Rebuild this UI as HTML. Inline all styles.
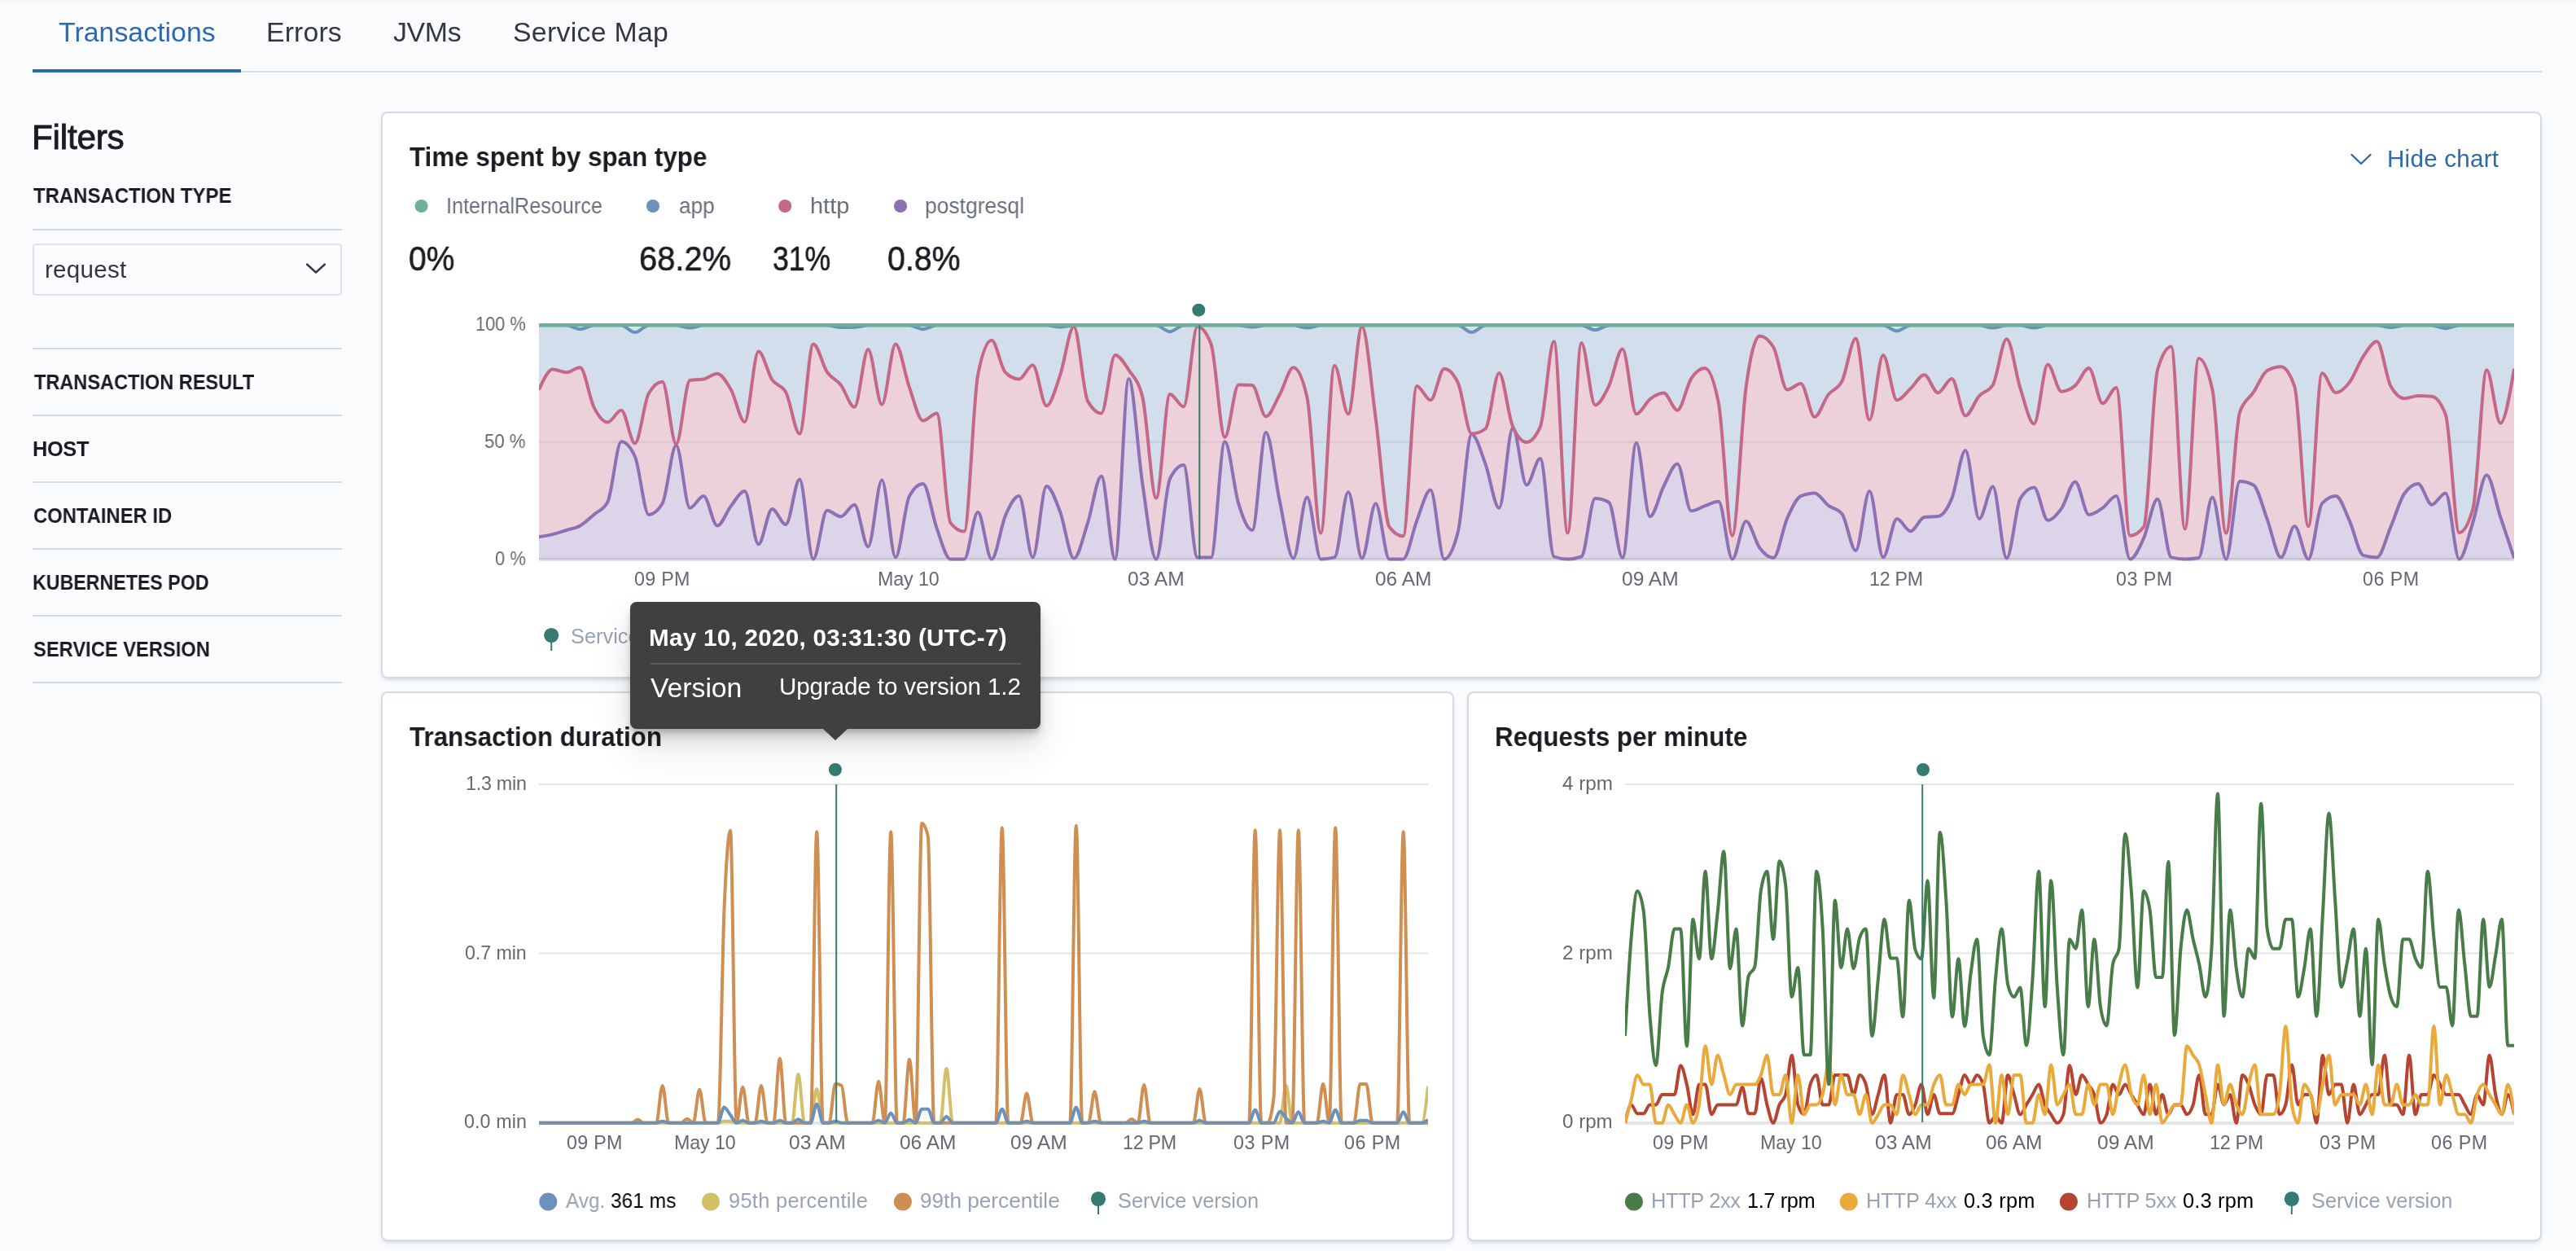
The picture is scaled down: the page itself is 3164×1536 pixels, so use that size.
<!DOCTYPE html>
<html lang="en"><head><meta charset="utf-8"><title>APM - Transactions</title>
<style>
html,body{margin:0;padding:0}
body{width:3164px;height:1536px;overflow:hidden;background:#fafbfd;font-family:"Liberation Sans",sans-serif;position:relative}
.t{position:absolute;white-space:pre;line-height:1;transform-origin:0 0;will-change:transform}
.panel{position:absolute;box-sizing:border-box;background:#fff;border:2px solid #d3dae6;border-radius:8px;box-shadow:0 4px 4px -2px rgba(152,162,179,.3),0 2px 10px -4px rgba(152,162,179,.3)}
.med{-webkit-text-stroke:.6px #1a1c21}
.med2{-webkit-text-stroke:.9px #1a1c21}
.hr{position:absolute;height:2px;background:#d3dae6}
svg{position:absolute;left:0;top:0}
#tip{position:absolute;left:774px;top:739px;width:504px;height:156px;background:#404040;border-radius:8px;box-shadow:0 24px 48px rgba(0,0,0,.1),0 12px 24px rgba(0,0,0,.1),0 8px 8px rgba(0,0,0,.1),0 4px 4px rgba(0,0,0,.1)}
#tip:after{content:"";position:absolute;left:236.5px;top:155.5px;width:0;height:0;border-left:15.5px solid transparent;border-right:15.5px solid transparent;border-top:14.5px solid #404040}
</style></head>
<body>
<div style="position:absolute;left:0;top:0;width:3164px;height:4px;background:linear-gradient(rgba(0,0,0,.025),rgba(0,0,0,0))"></div>
<div class="hr" style="left:40px;top:87px;width:3082px"></div>
<div style="position:absolute;left:40px;top:85px;width:256px;height:4px;background:#2d69af"></div>
<div class="hr" style="left:40px;top:281px;width:380px"></div>
<div class="hr" style="left:40px;top:427px;width:380px"></div>
<div class="hr" style="left:40px;top:509px;width:380px"></div>
<div class="hr" style="left:40px;top:591px;width:380px"></div>
<div class="hr" style="left:40px;top:673px;width:380px"></div>
<div class="hr" style="left:40px;top:755px;width:380px"></div>
<div class="hr" style="left:40px;top:837px;width:380px"></div>
<div style="position:absolute;box-sizing:border-box;left:40px;top:299px;width:380px;height:64px;border:2px solid #dde2ec;border-radius:4px;background:#fbfcfd"></div>
<div class="panel" style="left:468px;top:137px;width:2654px;height:696px"></div>
<div class="panel" style="left:468px;top:849px;width:1318px;height:675px"></div>
<div class="panel" style="left:1802px;top:849px;width:1320px;height:675px"></div>
<svg width="3164" height="1536" viewBox="0 0 3164 1536">
<defs><clipPath id="c1"><rect x="662" y="380" width="2426" height="320"/></clipPath><clipPath id="c2"><rect x="662" y="940" width="1092" height="450"/></clipPath><clipPath id="c3"><rect x="1996" y="940" width="1092" height="450"/></clipPath></defs>
<g id="chart-span"><line x1="662.0" x2="3088.0" y1="687" y2="687" stroke="#e3e4e8" stroke-width="4"/>
<path d="M662,659.2C667.6,658.3,673.2,657.5,678.8,656.1C684.5,654.8,690.1,652.8,695.7,651C701.3,649.2,706.9,648.7,712.5,645.5C718.2,642.3,723.8,636.7,729.4,631.9C735,627,740.6,626.8,746.2,616.7C751.9,606.6,757.5,542.3,763.1,542.3C768.7,542.3,774.3,548.4,779.9,560.5C785.5,572.7,791.2,631.9,796.8,631.9C802.4,631.9,808,627.3,813.6,618.2C819.2,609.1,824.9,546.8,830.5,546.8C836.1,546.8,841.7,623.7,847.3,623.7C852.9,623.7,858.6,609.1,864.2,609.1C869.8,609.1,875.4,645.5,881,645.5C886.6,645.5,892.2,628.3,897.9,621.2C903.5,614.1,909.1,603,914.7,603C920.3,603,925.9,668.3,931.6,668.3C937.2,668.3,942.8,624.9,948.4,624.9C954,624.9,959.6,644,965.2,644C970.9,644,976.5,588.4,982.1,588.4C987.7,588.4,993.3,686.5,998.9,686.5C1004.6,686.5,1010.2,626.7,1015.8,626.7C1021.4,626.7,1027,634.3,1032.6,634.3C1038.3,634.3,1043.9,619.7,1049.5,619.7C1055.1,619.7,1060.7,671.3,1066.3,671.3C1071.9,671.3,1077.6,589.4,1083.2,589.4C1088.8,589.4,1094.4,684.4,1100,684.4C1105.6,684.4,1111.3,619.2,1116.9,609.1C1122.5,599,1128.1,593.9,1133.7,593.9C1139.3,593.9,1145,633.1,1150.6,648.6C1156.2,664,1161.8,686.5,1167.4,686.5C1173,686.5,1178.6,686.5,1184.3,686.5C1189.9,686.5,1195.5,628.8,1201.1,628.8C1206.7,628.8,1212.3,686.5,1218,686.5C1223.6,686.5,1229.2,646.3,1234.8,633.4C1240.4,620.5,1246,609.1,1251.7,609.1C1257.3,609.1,1262.9,684.4,1268.5,684.4C1274.1,684.4,1279.7,596.9,1285.3,596.9C1291,596.9,1296.6,614,1302.2,628.8C1307.8,643.6,1313.4,685.6,1319,685.6C1324.7,685.6,1330.3,659.3,1335.9,642.5C1341.5,625.7,1347.1,584.8,1352.7,584.8C1358.4,584.8,1364,686.5,1369.6,686.5C1375.2,686.5,1380.8,464.9,1386.4,464.9C1392,464.9,1397.7,557,1403.3,593.9C1408.9,630.8,1414.5,686.5,1420.1,686.5C1425.7,686.5,1431.4,599,1437,587.8C1442.6,576.7,1448.2,571.1,1453.8,571.1C1459.4,571.1,1465.1,684.4,1470.7,684.4C1476.3,684.4,1481.9,684.4,1487.5,684.4C1493.1,684.4,1498.7,542.3,1504.4,542.3C1510,542.3,1515.6,600.1,1521.2,618.2C1526.8,636.3,1532.4,651,1538.1,651C1543.7,651,1549.3,531.1,1554.9,531.1C1560.5,531.1,1566.1,589.4,1571.8,615.2C1577.4,640.9,1583,685.6,1588.6,685.6C1594.2,685.6,1599.8,610.6,1605.4,610.6C1611.1,610.6,1616.7,686.5,1622.3,686.5C1627.9,686.5,1633.5,685.8,1639.1,684.4C1644.8,683,1650.4,603.9,1656,603.9C1661.6,603.9,1667.2,685.6,1672.8,685.6C1678.4,685.6,1684.1,618.2,1689.7,618.2C1695.3,618.2,1700.9,686.5,1706.5,686.5C1712.1,686.5,1717.8,686.5,1723.4,686.5C1729,686.5,1734.6,653.6,1740.2,639.4C1745.8,625.3,1751.5,601.5,1757.1,601.5C1762.7,601.5,1768.3,686.5,1773.9,686.5C1779.5,686.5,1785.1,675.4,1790.8,653.1C1796.4,630.8,1802,533.2,1807.6,533.2C1813.2,533.2,1818.8,554.5,1824.5,569.6C1830.1,584.7,1835.7,623.7,1841.3,623.7C1846.9,623.7,1852.5,525.6,1858.2,525.6C1863.8,525.6,1869.4,595.4,1875,595.4C1880.6,595.4,1886.2,562.9,1891.8,562.9C1897.5,562.9,1903.1,681.4,1908.7,683.5C1914.3,685.5,1919.9,686.5,1925.5,686.5C1931.2,686.5,1936.8,685.5,1942.4,683.5C1948,681.4,1953.6,612.1,1959.2,612.1C1964.9,612.1,1970.5,613.6,1976.1,616.7C1981.7,619.7,1987.3,685,1992.9,685C1998.5,685,2004.2,543.8,2009.8,543.8C2015.4,543.8,2021,634.3,2026.6,634.3C2032.2,634.3,2037.9,607.7,2043.5,596.9C2049.1,586.2,2054.7,569.6,2060.3,569.6C2065.9,569.6,2071.6,627.3,2077.2,627.3C2082.8,627.3,2088.4,623.2,2094,621.2C2099.6,619.3,2105.2,615.8,2110.9,615.8C2116.5,615.8,2122.1,686.5,2127.7,686.5C2133.3,686.5,2138.9,640.1,2144.6,640.1C2150.2,640.1,2155.8,665.3,2161.4,672.8C2167,680.3,2172.6,685,2178.2,685C2183.9,685,2189.5,649.1,2195.1,636.4C2200.7,623.8,2206.3,611.5,2211.9,609.1C2217.6,606.7,2223.2,605.4,2228.8,605.4C2234.4,605.4,2240,616.4,2245.6,620.6C2251.3,624.9,2256.9,624.1,2262.5,630.9C2268.1,637.8,2273.7,675.9,2279.3,675.9C2284.9,675.9,2290.6,603,2296.2,603C2301.8,603,2307.4,684.4,2313,684.4C2318.6,684.4,2324.3,637,2329.9,637C2335.5,637,2341.1,652.2,2346.7,652.2C2352.3,652.2,2358,635.5,2363.6,634.9C2369.2,634.3,2374.8,634.6,2380.4,634C2386,633.4,2391.6,625.6,2397.3,612.1C2402.9,598.6,2408.5,552.9,2414.1,552.9C2419.7,552.9,2425.3,637,2431,637C2436.6,637,2442.2,597.5,2447.8,597.5C2453.4,597.5,2459,685.6,2464.7,685.6C2470.3,685.6,2475.9,621.2,2481.5,612.1C2487.1,603,2492.7,598.5,2498.3,598.5C2504,598.5,2509.6,638.8,2515.2,638.8C2520.8,638.8,2526.4,632.2,2532,624.3C2537.7,616.4,2543.3,591.5,2548.9,591.5C2554.5,591.5,2560.1,631.9,2565.7,631.9C2571.4,631.9,2577,627.5,2582.6,623.7C2588.2,619.9,2593.8,609.1,2599.4,609.1C2605,609.1,2610.7,686.5,2616.3,686.5C2621.9,686.5,2627.5,673,2633.1,660.7C2638.7,648.4,2644.4,612.7,2650,612.7C2655.6,612.7,2661.2,683,2666.8,684.4C2672.4,685.8,2678.1,686.5,2683.7,686.5C2689.3,686.5,2694.9,686,2700.5,685C2706.1,684,2711.7,610.6,2717.4,610.6C2723,610.6,2728.6,686.5,2734.2,686.5C2739.8,686.5,2745.4,590.9,2751.1,590.9C2756.7,590.9,2762.3,592.4,2767.9,595.4C2773.5,598.5,2779.1,623.1,2784.8,637.9C2790.4,652.8,2796,684.4,2801.6,684.4C2807.2,684.4,2812.8,646.1,2818.4,646.1C2824.1,646.1,2829.7,686.5,2835.3,686.5C2840.9,686.5,2846.5,624.3,2852.1,618.2C2857.8,612.1,2863.4,609.1,2869,609.1C2874.6,609.1,2880.2,627.3,2885.8,639.4C2891.4,651.6,2897.1,680.3,2902.7,681.9C2908.3,683.6,2913.9,684.4,2919.5,684.4C2925.1,684.4,2930.8,660.1,2936.4,647C2942,634,2947.6,614.1,2953.2,606C2958.8,598,2964.5,593.9,2970.1,593.9C2975.7,593.9,2981.3,619.7,2986.9,619.7C2992.5,619.7,2998.1,605.4,3003.8,605.4C3009.4,605.4,3015,686.5,3020.6,686.5C3026.2,686.5,3031.8,658.2,3037.5,641C3043.1,623.8,3048.7,583.3,3054.3,583.3C3059.9,583.3,3065.5,617.9,3071.2,634.9C3076.8,651.8,3082.4,668.4,3088,685L3088,686.5L662,686.5Z" fill="#8c71b3" fill-opacity=".3"/>
<path d="M662,478.5C667.6,466.1,673.2,453.6,678.8,453.6C684.5,453.6,690.1,457.3,695.7,457.3C701.3,457.3,706.9,451.2,712.5,451.2C718.2,451.2,723.8,488.6,729.4,499.8C735,511,740.6,518.6,746.2,518.6C751.9,518.6,757.5,503.7,763.1,503.7C768.7,503.7,774.3,544.4,779.9,544.4C785.5,544.4,791.2,492.6,796.8,483.1C802.4,473.6,808,468.8,813.6,468.8C819.2,468.8,824.9,545.3,830.5,545.3C836.1,545.3,841.7,468,847.3,467C852.9,466,858.6,466.5,864.2,465.5C869.8,464.5,875.4,458.8,881,458.8C886.6,458.8,892.2,468.7,897.9,478.5C903.5,488.4,909.1,518,914.7,518C920.3,518,925.9,431.5,931.6,431.5C937.2,431.5,942.8,458,948.4,466.4C954,474.7,959.6,471.5,965.2,481.6C970.9,491.7,976.5,532.6,982.1,532.6C987.7,532.6,993.3,422.4,998.9,422.4C1004.6,422.4,1010.2,448.3,1015.8,456.7C1021.4,465,1027,465.3,1032.6,472.5C1038.3,479.7,1043.9,499.8,1049.5,499.8C1055.1,499.8,1060.7,429.1,1066.3,429.1C1071.9,429.1,1077.6,496.8,1083.2,496.8C1088.8,496.8,1094.4,422.4,1100,422.4C1105.6,422.4,1111.3,459.8,1116.9,475.5C1122.5,491.2,1128.1,516.5,1133.7,516.5C1139.3,516.5,1145,507.4,1150.6,507.4C1156.2,507.4,1161.8,634.8,1167.4,641.9C1173,649,1178.6,652.5,1184.3,652.5C1189.9,652.5,1195.5,488.7,1201.1,460.3C1206.7,432,1212.3,417.8,1218,417.8C1223.6,417.8,1229.2,451.8,1234.8,457.3C1240.4,462.8,1246,465.5,1251.7,465.5C1257.3,465.5,1262.9,448.2,1268.5,448.2C1274.1,448.2,1279.7,498.3,1285.3,498.3C1291,498.3,1296.6,476.5,1302.2,460.3C1307.8,444.1,1313.4,401.1,1319,401.1C1324.7,401.1,1330.3,482.1,1335.9,492.2C1341.5,502.3,1347.1,507.4,1352.7,507.4C1358.4,507.4,1364,436,1369.6,436C1375.2,436,1380.8,445.7,1386.4,454.3C1392,462.9,1397.7,465.4,1403.3,487.6C1408.9,509.9,1414.5,611.5,1420.1,611.5C1425.7,611.5,1431.4,484,1437,484C1442.6,484,1448.2,499.2,1453.8,499.2C1459.4,499.2,1465.1,401.1,1470.7,401.1C1476.3,401.1,1481.9,408.2,1487.5,422.4C1493.1,436.5,1498.7,536.8,1504.4,536.8C1510,536.8,1515.6,472.5,1521.2,472.5C1526.8,472.5,1532.4,472.7,1538.1,473.1C1543.7,473.5,1549.3,511.3,1554.9,511.3C1560.5,511.3,1566.1,494.6,1571.8,484.6C1577.4,474.6,1583,451.2,1588.6,451.2C1594.2,451.2,1599.8,463.4,1605.4,487.6C1611.1,511.9,1616.7,654.6,1622.3,654.6C1627.9,654.6,1633.5,448.8,1639.1,448.8C1644.8,448.8,1650.4,508.3,1656,508.3C1661.6,508.3,1667.2,401.1,1672.8,401.1C1678.4,401.1,1684.1,472.5,1689.7,513.5C1695.3,554.4,1700.9,639.5,1706.5,647C1712.1,654.5,1717.8,658.3,1723.4,658.3C1729,658.3,1734.6,474,1740.2,474C1745.8,474,1751.5,491.3,1757.1,491.3C1762.7,491.3,1768.3,452.7,1773.9,452.7C1779.5,452.7,1785.1,458.5,1790.8,470C1796.4,481.6,1802,532.6,1807.6,532.6C1813.2,532.6,1818.8,530.6,1824.5,526.5C1830.1,522.5,1835.7,457.9,1841.3,457.9C1846.9,457.9,1852.5,511.5,1858.2,524.1C1863.8,536.6,1869.4,542.9,1875,542.9C1880.6,542.9,1886.2,536.6,1891.8,524.1C1897.5,511.5,1903.1,419.3,1908.7,419.3C1914.3,419.3,1919.9,654.6,1925.5,654.6C1931.2,654.6,1936.8,420.9,1942.4,420.9C1948,420.9,1953.6,497.4,1959.2,497.4C1964.9,497.4,1970.5,485.5,1976.1,474C1981.7,462.5,1987.3,428.4,1992.9,428.4C1998.5,428.4,2004.2,508.3,2009.8,508.3C2015.4,508.3,2021,494.4,2026.6,490.1C2032.2,485.8,2037.9,482.5,2043.5,482.5C2049.1,482.5,2054.7,503.7,2060.3,503.7C2065.9,503.7,2071.6,473.4,2077.2,464.9C2082.8,456.4,2088.4,452.1,2094,452.1C2099.6,452.1,2105.2,466.5,2110.9,495.2C2116.5,524,2122.1,657.7,2127.7,657.7C2133.3,657.7,2138.9,516.4,2144.6,475.5C2150.2,434.6,2155.8,412.4,2161.4,412.4C2167,412.4,2172.6,417,2178.2,426.3C2183.9,435.6,2189.5,478.5,2195.1,478.5C2200.7,478.5,2206.3,471,2211.9,471C2217.6,471,2223.2,511.9,2228.8,511.9C2234.4,511.9,2240,491.9,2245.6,484.6C2251.3,477.3,2256.9,479,2262.5,467.9C2268.1,456.8,2273.7,415.7,2279.3,415.7C2284.9,415.7,2290.6,515.6,2296.2,515.6C2301.8,515.6,2307.4,436,2313,436C2318.6,436,2324.3,491.3,2329.9,491.3C2335.5,491.3,2341.1,482.2,2346.7,477C2352.3,471.9,2358,460.3,2363.6,460.3C2369.2,460.3,2374.8,482.2,2380.4,482.2C2386,482.2,2391.6,464.9,2397.3,464.9C2402.9,464.9,2408.5,510.4,2414.1,510.4C2419.7,510.4,2425.3,492.5,2431,486.1C2436.6,479.8,2442.2,481.6,2447.8,472.5C2453.4,463.4,2459,416.3,2464.7,416.3C2470.3,416.3,2475.9,459.7,2481.5,477C2487.1,494.4,2492.7,520.4,2498.3,520.4C2504,520.4,2509.6,447.6,2515.2,447.6C2520.8,447.6,2526.4,480.7,2532,480.7C2537.7,480.7,2543.3,478.1,2548.9,473.4C2554.5,468.6,2560.1,452.1,2565.7,452.1C2571.4,452.1,2577,495.2,2582.6,495.2C2588.2,495.2,2593.8,476.1,2599.4,476.1C2605,476.1,2610.7,657.7,2616.3,657.7C2621.9,657.7,2627.5,654.1,2633.1,647C2638.7,639.9,2644.4,473.5,2650,454.3C2655.6,435,2661.2,425.4,2666.8,425.4C2672.4,425.4,2678.1,649.5,2683.7,649.5C2689.3,649.5,2694.9,440,2700.5,440C2706.1,440,2711.7,452.8,2717.4,478.5C2723,504.2,2728.6,654.6,2734.2,654.6C2739.8,654.6,2745.4,522.1,2751.1,505.9C2756.7,489.7,2762.3,490.1,2767.9,481.6C2773.5,473.1,2779.1,457.9,2784.8,454.9C2790.4,451.8,2796,450.3,2801.6,450.3C2807.2,450.3,2812.8,458.5,2818.4,474.9C2824.1,491.3,2829.7,646.4,2835.3,646.4C2840.9,646.4,2846.5,458.2,2852.1,458.2C2857.8,458.2,2863.4,482.2,2869,482.2C2874.6,482.2,2880.2,476.9,2885.8,469.4C2891.4,462,2897.1,445.9,2902.7,437.6C2908.3,429.2,2913.9,419.3,2919.5,419.3C2925.1,419.3,2930.8,463.9,2936.4,474C2942,484.1,2947.6,489.2,2953.2,489.2C2958.8,489.2,2964.5,486.1,2970.1,486.1C2975.7,486.1,2981.3,486.3,2986.9,486.7C2992.5,487.1,2998.1,494.1,3003.8,508.9C3009.4,523.7,3015,654,3020.6,654C3026.2,654,3031.8,644.1,3037.5,624.3C3043.1,604.4,3048.7,454.3,3054.3,454.3C3059.9,454.3,3065.5,519.5,3071.2,519.5C3076.8,519.5,3082.4,486.1,3088,452.7L3088,685C3082.4,668.4,3076.8,651.8,3071.2,634.9C3065.5,617.9,3059.9,583.3,3054.3,583.3C3048.7,583.3,3043.1,623.8,3037.5,641C3031.8,658.2,3026.2,686.5,3020.6,686.5C3015,686.5,3009.4,605.4,3003.8,605.4C2998.1,605.4,2992.5,619.7,2986.9,619.7C2981.3,619.7,2975.7,593.9,2970.1,593.9C2964.5,593.9,2958.8,598,2953.2,606C2947.6,614.1,2942,634,2936.4,647C2930.8,660.1,2925.1,684.4,2919.5,684.4C2913.9,684.4,2908.3,683.6,2902.7,681.9C2897.1,680.3,2891.4,651.6,2885.8,639.4C2880.2,627.3,2874.6,609.1,2869,609.1C2863.4,609.1,2857.8,612.1,2852.1,618.2C2846.5,624.3,2840.9,686.5,2835.3,686.5C2829.7,686.5,2824.1,646.1,2818.4,646.1C2812.8,646.1,2807.2,684.4,2801.6,684.4C2796,684.4,2790.4,652.8,2784.8,637.9C2779.1,623.1,2773.5,598.5,2767.9,595.4C2762.3,592.4,2756.7,590.9,2751.1,590.9C2745.4,590.9,2739.8,686.5,2734.2,686.5C2728.6,686.5,2723,610.6,2717.4,610.6C2711.7,610.6,2706.1,684,2700.5,685C2694.9,686,2689.3,686.5,2683.7,686.5C2678.1,686.5,2672.4,685.8,2666.8,684.4C2661.2,683,2655.6,612.7,2650,612.7C2644.4,612.7,2638.7,648.4,2633.1,660.7C2627.5,673,2621.9,686.5,2616.3,686.5C2610.7,686.5,2605,609.1,2599.4,609.1C2593.8,609.1,2588.2,619.9,2582.6,623.7C2577,627.5,2571.4,631.9,2565.7,631.9C2560.1,631.9,2554.5,591.5,2548.9,591.5C2543.3,591.5,2537.7,616.4,2532,624.3C2526.4,632.2,2520.8,638.8,2515.2,638.8C2509.6,638.8,2504,598.5,2498.3,598.5C2492.7,598.5,2487.1,603,2481.5,612.1C2475.9,621.2,2470.3,685.6,2464.7,685.6C2459,685.6,2453.4,597.5,2447.8,597.5C2442.2,597.5,2436.6,637,2431,637C2425.3,637,2419.7,552.9,2414.1,552.9C2408.5,552.9,2402.9,598.6,2397.3,612.1C2391.6,625.6,2386,633.4,2380.4,634C2374.8,634.6,2369.2,634.3,2363.6,634.9C2358,635.5,2352.3,652.2,2346.7,652.2C2341.1,652.2,2335.5,637,2329.9,637C2324.3,637,2318.6,684.4,2313,684.4C2307.4,684.4,2301.8,603,2296.2,603C2290.6,603,2284.9,675.9,2279.3,675.9C2273.7,675.9,2268.1,637.8,2262.5,630.9C2256.9,624.1,2251.3,624.9,2245.6,620.6C2240,616.4,2234.4,605.4,2228.8,605.4C2223.2,605.4,2217.6,606.7,2211.9,609.1C2206.3,611.5,2200.7,623.8,2195.1,636.4C2189.5,649.1,2183.9,685,2178.2,685C2172.6,685,2167,680.3,2161.4,672.8C2155.8,665.3,2150.2,640.1,2144.6,640.1C2138.9,640.1,2133.3,686.5,2127.7,686.5C2122.1,686.5,2116.5,615.8,2110.9,615.8C2105.2,615.8,2099.6,619.3,2094,621.2C2088.4,623.2,2082.8,627.3,2077.2,627.3C2071.6,627.3,2065.9,569.6,2060.3,569.6C2054.7,569.6,2049.1,586.2,2043.5,596.9C2037.9,607.7,2032.2,634.3,2026.6,634.3C2021,634.3,2015.4,543.8,2009.8,543.8C2004.2,543.8,1998.5,685,1992.9,685C1987.3,685,1981.7,619.7,1976.1,616.7C1970.5,613.6,1964.9,612.1,1959.2,612.1C1953.6,612.1,1948,681.4,1942.4,683.5C1936.8,685.5,1931.2,686.5,1925.5,686.5C1919.9,686.5,1914.3,685.5,1908.7,683.5C1903.1,681.4,1897.5,562.9,1891.8,562.9C1886.2,562.9,1880.6,595.4,1875,595.4C1869.4,595.4,1863.8,525.6,1858.2,525.6C1852.5,525.6,1846.9,623.7,1841.3,623.7C1835.7,623.7,1830.1,584.7,1824.5,569.6C1818.8,554.5,1813.2,533.2,1807.6,533.2C1802,533.2,1796.4,630.8,1790.8,653.1C1785.1,675.4,1779.5,686.5,1773.9,686.5C1768.3,686.5,1762.7,601.5,1757.1,601.5C1751.5,601.5,1745.8,625.3,1740.2,639.4C1734.6,653.6,1729,686.5,1723.4,686.5C1717.8,686.5,1712.1,686.5,1706.5,686.5C1700.9,686.5,1695.3,618.2,1689.7,618.2C1684.1,618.2,1678.4,685.6,1672.8,685.6C1667.2,685.6,1661.6,603.9,1656,603.9C1650.4,603.9,1644.8,683,1639.1,684.4C1633.5,685.8,1627.9,686.5,1622.3,686.5C1616.7,686.5,1611.1,610.6,1605.4,610.6C1599.8,610.6,1594.2,685.6,1588.6,685.6C1583,685.6,1577.4,640.9,1571.8,615.2C1566.1,589.4,1560.5,531.1,1554.9,531.1C1549.3,531.1,1543.7,651,1538.1,651C1532.4,651,1526.8,636.3,1521.2,618.2C1515.6,600.1,1510,542.3,1504.4,542.3C1498.7,542.3,1493.1,684.4,1487.5,684.4C1481.9,684.4,1476.3,684.4,1470.7,684.4C1465.1,684.4,1459.4,571.1,1453.8,571.1C1448.2,571.1,1442.6,576.7,1437,587.8C1431.4,599,1425.7,686.5,1420.1,686.5C1414.5,686.5,1408.9,630.8,1403.3,593.9C1397.7,557,1392,464.9,1386.4,464.9C1380.8,464.9,1375.2,686.5,1369.6,686.5C1364,686.5,1358.4,584.8,1352.7,584.8C1347.1,584.8,1341.5,625.7,1335.9,642.5C1330.3,659.3,1324.7,685.6,1319,685.6C1313.4,685.6,1307.8,643.6,1302.2,628.8C1296.6,614,1291,596.9,1285.3,596.9C1279.7,596.9,1274.1,684.4,1268.5,684.4C1262.9,684.4,1257.3,609.1,1251.7,609.1C1246,609.1,1240.4,620.5,1234.8,633.4C1229.2,646.3,1223.6,686.5,1218,686.5C1212.3,686.5,1206.7,628.8,1201.1,628.8C1195.5,628.8,1189.9,686.5,1184.3,686.5C1178.6,686.5,1173,686.5,1167.4,686.5C1161.8,686.5,1156.2,664,1150.6,648.6C1145,633.1,1139.3,593.9,1133.7,593.9C1128.1,593.9,1122.5,599,1116.9,609.1C1111.3,619.2,1105.6,684.4,1100,684.4C1094.4,684.4,1088.8,589.4,1083.2,589.4C1077.6,589.4,1071.9,671.3,1066.3,671.3C1060.7,671.3,1055.1,619.7,1049.5,619.7C1043.9,619.7,1038.3,634.3,1032.6,634.3C1027,634.3,1021.4,626.7,1015.8,626.7C1010.2,626.7,1004.6,686.5,998.9,686.5C993.3,686.5,987.7,588.4,982.1,588.4C976.5,588.4,970.9,644,965.2,644C959.6,644,954,624.9,948.4,624.9C942.8,624.9,937.2,668.3,931.6,668.3C925.9,668.3,920.3,603,914.7,603C909.1,603,903.5,614.1,897.9,621.2C892.2,628.3,886.6,645.5,881,645.5C875.4,645.5,869.8,609.1,864.2,609.1C858.6,609.1,852.9,623.7,847.3,623.7C841.7,623.7,836.1,546.8,830.5,546.8C824.9,546.8,819.2,609.1,813.6,618.2C808,627.3,802.4,631.9,796.8,631.9C791.2,631.9,785.5,572.7,779.9,560.5C774.3,548.4,768.7,542.3,763.1,542.3C757.5,542.3,751.9,606.6,746.2,616.7C740.6,626.8,735,627,729.4,631.9C723.8,636.7,718.2,642.3,712.5,645.5C706.9,648.7,701.3,649.2,695.7,651C690.1,652.8,684.5,654.8,678.8,656.1C673.2,657.5,667.6,658.3,662,659.2Z" fill="#c56786" fill-opacity=".3"/>
<path d="M662,399.6C667.6,399.6,673.2,399.6,678.8,399.6C684.5,399.6,690.1,399.6,695.7,399.6C701.3,399.6,706.9,404.2,712.5,404.2C718.2,404.2,723.8,399.6,729.4,399.6C735,399.6,740.6,399.6,746.2,399.6C751.9,399.6,757.5,399.6,763.1,399.6C768.7,399.6,774.3,408.1,779.9,408.1C785.5,408.1,791.2,399.6,796.8,399.6C802.4,399.6,808,399.6,813.6,399.6C819.2,399.6,824.9,399.6,830.5,399.6C836.1,399.6,841.7,402.6,847.3,402.6C852.9,402.6,858.6,399.6,864.2,399.6C869.8,399.6,875.4,399.6,881,399.6C886.6,399.6,892.2,399.6,897.9,399.6C903.5,399.6,909.1,399.6,914.7,399.6C920.3,399.6,925.9,399.6,931.6,399.6C937.2,399.6,942.8,399.6,948.4,399.6C954,399.6,959.6,399.6,965.2,399.6C970.9,399.6,976.5,399.6,982.1,399.6C987.7,399.6,993.3,399.6,998.9,399.6C1004.6,399.6,1010.2,399.6,1015.8,399.6C1021.4,399.6,1027,402,1032.6,402C1038.3,402,1043.9,401.9,1049.5,401.7C1055.1,401.5,1060.7,399.6,1066.3,399.6C1071.9,399.6,1077.6,399.6,1083.2,399.6C1088.8,399.6,1094.4,399.6,1100,399.6C1105.6,399.6,1111.3,399.6,1116.9,399.6C1122.5,399.6,1128.1,404.2,1133.7,404.2C1139.3,404.2,1145,399.6,1150.6,399.6C1156.2,399.6,1161.8,399.6,1167.4,399.6C1173,399.6,1178.6,399.6,1184.3,399.6C1189.9,399.6,1195.5,399.6,1201.1,399.6C1206.7,399.6,1212.3,399.6,1218,399.6C1223.6,399.6,1229.2,399.6,1234.8,399.6C1240.4,399.6,1246,399.6,1251.7,399.6C1257.3,399.6,1262.9,399.6,1268.5,399.6C1274.1,399.6,1279.7,399.6,1285.3,399.6C1291,399.6,1296.6,401.4,1302.2,401.4C1307.8,401.4,1313.4,399.6,1319,399.6C1324.7,399.6,1330.3,399.6,1335.9,399.6C1341.5,399.6,1347.1,399.6,1352.7,399.6C1358.4,399.6,1364,399.6,1369.6,399.6C1375.2,399.6,1380.8,399.6,1386.4,399.6C1392,399.6,1397.7,399.6,1403.3,399.6C1408.9,399.6,1414.5,399.6,1420.1,399.6C1425.7,399.6,1431.4,407.2,1437,407.2C1442.6,407.2,1448.2,399.6,1453.8,399.6C1459.4,399.6,1465.1,399.6,1470.7,399.6C1476.3,399.6,1481.9,399.6,1487.5,399.6C1493.1,399.6,1498.7,399.6,1504.4,399.6C1510,399.6,1515.6,399.6,1521.2,399.6C1526.8,399.6,1532.4,401.4,1538.1,401.4C1543.7,401.4,1549.3,399.6,1554.9,399.6C1560.5,399.6,1566.1,399.6,1571.8,399.6C1577.4,399.6,1583,399.6,1588.6,399.6C1594.2,399.6,1599.8,402.6,1605.4,402.6C1611.1,402.6,1616.7,399.6,1622.3,399.6C1627.9,399.6,1633.5,399.6,1639.1,399.6C1644.8,399.6,1650.4,399.6,1656,399.6C1661.6,399.6,1667.2,399.6,1672.8,399.6C1678.4,399.6,1684.1,399.6,1689.7,399.6C1695.3,399.6,1700.9,399.6,1706.5,399.6C1712.1,399.6,1717.8,399.6,1723.4,399.6C1729,399.6,1734.6,399.6,1740.2,399.6C1745.8,399.6,1751.5,399.6,1757.1,399.6C1762.7,399.6,1768.3,399.6,1773.9,399.6C1779.5,399.6,1785.1,399.6,1790.8,399.6C1796.4,399.6,1802,408.1,1807.6,408.1C1813.2,408.1,1818.8,399.6,1824.5,399.6C1830.1,399.6,1835.7,399.6,1841.3,399.6C1846.9,399.6,1852.5,399.6,1858.2,399.6C1863.8,399.6,1869.4,399.6,1875,399.6C1880.6,399.6,1886.2,399.6,1891.8,399.6C1897.5,399.6,1903.1,399.6,1908.7,399.6C1914.3,399.6,1919.9,399.6,1925.5,399.6C1931.2,399.6,1936.8,399.6,1942.4,399.6C1948,399.6,1953.6,405.1,1959.2,405.1C1964.9,405.1,1970.5,399.6,1976.1,399.6C1981.7,399.6,1987.3,399.6,1992.9,399.6C1998.5,399.6,2004.2,399.6,2009.8,399.6C2015.4,399.6,2021,399.6,2026.6,399.6C2032.2,399.6,2037.9,399.6,2043.5,399.6C2049.1,399.6,2054.7,399.6,2060.3,399.6C2065.9,399.6,2071.6,399.6,2077.2,399.6C2082.8,399.6,2088.4,399.6,2094,399.6C2099.6,399.6,2105.2,399.6,2110.9,399.6C2116.5,399.6,2122.1,399.6,2127.7,399.6C2133.3,399.6,2138.9,399.6,2144.6,399.6C2150.2,399.6,2155.8,399.6,2161.4,399.6C2167,399.6,2172.6,399.6,2178.2,399.6C2183.9,399.6,2189.5,399.6,2195.1,399.6C2200.7,399.6,2206.3,399.6,2211.9,399.6C2217.6,399.6,2223.2,399.6,2228.8,399.6C2234.4,399.6,2240,399.6,2245.6,399.6C2251.3,399.6,2256.9,399.6,2262.5,399.6C2268.1,399.6,2273.7,399.6,2279.3,399.6C2284.9,399.6,2290.6,399.6,2296.2,399.6C2301.8,399.6,2307.4,399.6,2313,399.6C2318.6,399.6,2324.3,406.3,2329.9,406.3C2335.5,406.3,2341.1,399.6,2346.7,399.6C2352.3,399.6,2358,399.6,2363.6,399.6C2369.2,399.6,2374.8,399.6,2380.4,399.6C2386,399.6,2391.6,399.6,2397.3,399.6C2402.9,399.6,2408.5,399.6,2414.1,399.6C2419.7,399.6,2425.3,399.6,2431,399.6C2436.6,399.6,2442.2,402.6,2447.8,402.6C2453.4,402.6,2459,399.6,2464.7,399.6C2470.3,399.6,2475.9,399.6,2481.5,399.6C2487.1,399.6,2492.7,402.6,2498.3,402.6C2504,402.6,2509.6,399.6,2515.2,399.6C2520.8,399.6,2526.4,399.6,2532,399.6C2537.7,399.6,2543.3,399.6,2548.9,399.6C2554.5,399.6,2560.1,399.6,2565.7,399.6C2571.4,399.6,2577,399.6,2582.6,399.6C2588.2,399.6,2593.8,399.6,2599.4,399.6C2605,399.6,2610.7,399.6,2616.3,399.6C2621.9,399.6,2627.5,399.6,2633.1,399.6C2638.7,399.6,2644.4,399.6,2650,399.6C2655.6,399.6,2661.2,399.6,2666.8,399.6C2672.4,399.6,2678.1,399.6,2683.7,399.6C2689.3,399.6,2694.9,399.6,2700.5,399.6C2706.1,399.6,2711.7,399.6,2717.4,399.6C2723,399.6,2728.6,399.6,2734.2,399.6C2739.8,399.6,2745.4,399.6,2751.1,399.6C2756.7,399.6,2762.3,399.6,2767.9,399.6C2773.5,399.6,2779.1,399.6,2784.8,399.6C2790.4,399.6,2796,399.6,2801.6,399.6C2807.2,399.6,2812.8,399.6,2818.4,399.6C2824.1,399.6,2829.7,399.6,2835.3,399.6C2840.9,399.6,2846.5,399.6,2852.1,399.6C2857.8,399.6,2863.4,399.6,2869,399.6C2874.6,399.6,2880.2,399.6,2885.8,399.6C2891.4,399.6,2897.1,399.6,2902.7,399.6C2908.3,399.6,2913.9,399.6,2919.5,399.6C2925.1,399.6,2930.8,402,2936.4,402C2942,402,2947.6,399.6,2953.2,399.6C2958.8,399.6,2964.5,399.6,2970.1,399.6C2975.7,399.6,2981.3,399.6,2986.9,399.6C2992.5,399.6,2998.1,403.3,3003.8,403.3C3009.4,403.3,3015,399.6,3020.6,399.6C3026.2,399.6,3031.8,399.6,3037.5,399.6C3043.1,399.6,3048.7,399.6,3054.3,399.6C3059.9,399.6,3065.5,399.6,3071.2,399.6C3076.8,399.6,3082.4,399.6,3088,399.6L3088,452.7C3082.4,486.1,3076.8,519.5,3071.2,519.5C3065.5,519.5,3059.9,454.3,3054.3,454.3C3048.7,454.3,3043.1,604.4,3037.5,624.3C3031.8,644.1,3026.2,654,3020.6,654C3015,654,3009.4,523.7,3003.8,508.9C2998.1,494.1,2992.5,487.1,2986.9,486.7C2981.3,486.3,2975.7,486.1,2970.1,486.1C2964.5,486.1,2958.8,489.2,2953.2,489.2C2947.6,489.2,2942,484.1,2936.4,474C2930.8,463.9,2925.1,419.3,2919.5,419.3C2913.9,419.3,2908.3,429.2,2902.7,437.6C2897.1,445.9,2891.4,462,2885.8,469.4C2880.2,476.9,2874.6,482.2,2869,482.2C2863.4,482.2,2857.8,458.2,2852.1,458.2C2846.5,458.2,2840.9,646.4,2835.3,646.4C2829.7,646.4,2824.1,491.3,2818.4,474.9C2812.8,458.5,2807.2,450.3,2801.6,450.3C2796,450.3,2790.4,451.8,2784.8,454.9C2779.1,457.9,2773.5,473.1,2767.9,481.6C2762.3,490.1,2756.7,489.7,2751.1,505.9C2745.4,522.1,2739.8,654.6,2734.2,654.6C2728.6,654.6,2723,504.2,2717.4,478.5C2711.7,452.8,2706.1,440,2700.5,440C2694.9,440,2689.3,649.5,2683.7,649.5C2678.1,649.5,2672.4,425.4,2666.8,425.4C2661.2,425.4,2655.6,435,2650,454.3C2644.4,473.5,2638.7,639.9,2633.1,647C2627.5,654.1,2621.9,657.7,2616.3,657.7C2610.7,657.7,2605,476.1,2599.4,476.1C2593.8,476.1,2588.2,495.2,2582.6,495.2C2577,495.2,2571.4,452.1,2565.7,452.1C2560.1,452.1,2554.5,468.6,2548.9,473.4C2543.3,478.1,2537.7,480.7,2532,480.7C2526.4,480.7,2520.8,447.6,2515.2,447.6C2509.6,447.6,2504,520.4,2498.3,520.4C2492.7,520.4,2487.1,494.4,2481.5,477C2475.9,459.7,2470.3,416.3,2464.7,416.3C2459,416.3,2453.4,463.4,2447.8,472.5C2442.2,481.6,2436.6,479.8,2431,486.1C2425.3,492.5,2419.7,510.4,2414.1,510.4C2408.5,510.4,2402.9,464.9,2397.3,464.9C2391.6,464.9,2386,482.2,2380.4,482.2C2374.8,482.2,2369.2,460.3,2363.6,460.3C2358,460.3,2352.3,471.9,2346.7,477C2341.1,482.2,2335.5,491.3,2329.9,491.3C2324.3,491.3,2318.6,436,2313,436C2307.4,436,2301.8,515.6,2296.2,515.6C2290.6,515.6,2284.9,415.7,2279.3,415.7C2273.7,415.7,2268.1,456.8,2262.5,467.9C2256.9,479,2251.3,477.3,2245.6,484.6C2240,491.9,2234.4,511.9,2228.8,511.9C2223.2,511.9,2217.6,471,2211.9,471C2206.3,471,2200.7,478.5,2195.1,478.5C2189.5,478.5,2183.9,435.6,2178.2,426.3C2172.6,417,2167,412.4,2161.4,412.4C2155.8,412.4,2150.2,434.6,2144.6,475.5C2138.9,516.4,2133.3,657.7,2127.7,657.7C2122.1,657.7,2116.5,524,2110.9,495.2C2105.2,466.5,2099.6,452.1,2094,452.1C2088.4,452.1,2082.8,456.4,2077.2,464.9C2071.6,473.4,2065.9,503.7,2060.3,503.7C2054.7,503.7,2049.1,482.5,2043.5,482.5C2037.9,482.5,2032.2,485.8,2026.6,490.1C2021,494.4,2015.4,508.3,2009.8,508.3C2004.2,508.3,1998.5,428.4,1992.9,428.4C1987.3,428.4,1981.7,462.5,1976.1,474C1970.5,485.5,1964.9,497.4,1959.2,497.4C1953.6,497.4,1948,420.9,1942.4,420.9C1936.8,420.9,1931.2,654.6,1925.5,654.6C1919.9,654.6,1914.3,419.3,1908.7,419.3C1903.1,419.3,1897.5,511.5,1891.8,524.1C1886.2,536.6,1880.6,542.9,1875,542.9C1869.4,542.9,1863.8,536.6,1858.2,524.1C1852.5,511.5,1846.9,457.9,1841.3,457.9C1835.7,457.9,1830.1,522.5,1824.5,526.5C1818.8,530.6,1813.2,532.6,1807.6,532.6C1802,532.6,1796.4,481.6,1790.8,470C1785.1,458.5,1779.5,452.7,1773.9,452.7C1768.3,452.7,1762.7,491.3,1757.1,491.3C1751.5,491.3,1745.8,474,1740.2,474C1734.6,474,1729,658.3,1723.4,658.3C1717.8,658.3,1712.1,654.5,1706.5,647C1700.9,639.5,1695.3,554.4,1689.7,513.5C1684.1,472.5,1678.4,401.1,1672.8,401.1C1667.2,401.1,1661.6,508.3,1656,508.3C1650.4,508.3,1644.8,448.8,1639.1,448.8C1633.5,448.8,1627.9,654.6,1622.3,654.6C1616.7,654.6,1611.1,511.9,1605.4,487.6C1599.8,463.4,1594.2,451.2,1588.6,451.2C1583,451.2,1577.4,474.6,1571.8,484.6C1566.1,494.6,1560.5,511.3,1554.9,511.3C1549.3,511.3,1543.7,473.5,1538.1,473.1C1532.4,472.7,1526.8,472.5,1521.2,472.5C1515.6,472.5,1510,536.8,1504.4,536.8C1498.7,536.8,1493.1,436.5,1487.5,422.4C1481.9,408.2,1476.3,401.1,1470.7,401.1C1465.1,401.1,1459.4,499.2,1453.8,499.2C1448.2,499.2,1442.6,484,1437,484C1431.4,484,1425.7,611.5,1420.1,611.5C1414.5,611.5,1408.9,509.9,1403.3,487.6C1397.7,465.4,1392,462.9,1386.4,454.3C1380.8,445.7,1375.2,436,1369.6,436C1364,436,1358.4,507.4,1352.7,507.4C1347.1,507.4,1341.5,502.3,1335.9,492.2C1330.3,482.1,1324.7,401.1,1319,401.1C1313.4,401.1,1307.8,444.1,1302.2,460.3C1296.6,476.5,1291,498.3,1285.3,498.3C1279.7,498.3,1274.1,448.2,1268.5,448.2C1262.9,448.2,1257.3,465.5,1251.7,465.5C1246,465.5,1240.4,462.8,1234.8,457.3C1229.2,451.8,1223.6,417.8,1218,417.8C1212.3,417.8,1206.7,432,1201.1,460.3C1195.5,488.7,1189.9,652.5,1184.3,652.5C1178.6,652.5,1173,649,1167.4,641.9C1161.8,634.8,1156.2,507.4,1150.6,507.4C1145,507.4,1139.3,516.5,1133.7,516.5C1128.1,516.5,1122.5,491.2,1116.9,475.5C1111.3,459.8,1105.6,422.4,1100,422.4C1094.4,422.4,1088.8,496.8,1083.2,496.8C1077.6,496.8,1071.9,429.1,1066.3,429.1C1060.7,429.1,1055.1,499.8,1049.5,499.8C1043.9,499.8,1038.3,479.7,1032.6,472.5C1027,465.3,1021.4,465,1015.8,456.7C1010.2,448.3,1004.6,422.4,998.9,422.4C993.3,422.4,987.7,532.6,982.1,532.6C976.5,532.6,970.9,491.7,965.2,481.6C959.6,471.5,954,474.7,948.4,466.4C942.8,458,937.2,431.5,931.6,431.5C925.9,431.5,920.3,518,914.7,518C909.1,518,903.5,488.4,897.9,478.5C892.2,468.7,886.6,458.8,881,458.8C875.4,458.8,869.8,464.5,864.2,465.5C858.6,466.5,852.9,466,847.3,467C841.7,468,836.1,545.3,830.5,545.3C824.9,545.3,819.2,468.8,813.6,468.8C808,468.8,802.4,473.6,796.8,483.1C791.2,492.6,785.5,544.4,779.9,544.4C774.3,544.4,768.7,503.7,763.1,503.7C757.5,503.7,751.9,518.6,746.2,518.6C740.6,518.6,735,511,729.4,499.8C723.8,488.6,718.2,451.2,712.5,451.2C706.9,451.2,701.3,457.3,695.7,457.3C690.1,457.3,684.5,453.6,678.8,453.6C673.2,453.6,667.6,466.1,662,478.5Z" fill="#6b91bc" fill-opacity=".3"/>
<path d="M662,399C667.6,399,673.2,399,678.8,399C684.5,399,690.1,399,695.7,399C701.3,399,706.9,399,712.5,399C718.2,399,723.8,399,729.4,399C735,399,740.6,399,746.2,399C751.9,399,757.5,399,763.1,399C768.7,399,774.3,399,779.9,399C785.5,399,791.2,399,796.8,399C802.4,399,808,399,813.6,399C819.2,399,824.9,399,830.5,399C836.1,399,841.7,399,847.3,399C852.9,399,858.6,399,864.2,399C869.8,399,875.4,399,881,399C886.6,399,892.2,399,897.9,399C903.5,399,909.1,399,914.7,399C920.3,399,925.9,399,931.6,399C937.2,399,942.8,399,948.4,399C954,399,959.6,399,965.2,399C970.9,399,976.5,399,982.1,399C987.7,399,993.3,399,998.9,399C1004.6,399,1010.2,399,1015.8,399C1021.4,399,1027,399,1032.6,399C1038.3,399,1043.9,399,1049.5,399C1055.1,399,1060.7,399,1066.3,399C1071.9,399,1077.6,399,1083.2,399C1088.8,399,1094.4,399,1100,399C1105.6,399,1111.3,399,1116.9,399C1122.5,399,1128.1,399,1133.7,399C1139.3,399,1145,399,1150.6,399C1156.2,399,1161.8,399,1167.4,399C1173,399,1178.6,399,1184.3,399C1189.9,399,1195.5,399,1201.1,399C1206.7,399,1212.3,399,1218,399C1223.6,399,1229.2,399,1234.8,399C1240.4,399,1246,399,1251.7,399C1257.3,399,1262.9,399,1268.5,399C1274.1,399,1279.7,399,1285.3,399C1291,399,1296.6,399,1302.2,399C1307.8,399,1313.4,399,1319,399C1324.7,399,1330.3,399,1335.9,399C1341.5,399,1347.1,399,1352.7,399C1358.4,399,1364,399,1369.6,399C1375.2,399,1380.8,399,1386.4,399C1392,399,1397.7,399,1403.3,399C1408.9,399,1414.5,399,1420.1,399C1425.7,399,1431.4,399,1437,399C1442.6,399,1448.2,399,1453.8,399C1459.4,399,1465.1,399,1470.7,399C1476.3,399,1481.9,399,1487.5,399C1493.1,399,1498.7,399,1504.4,399C1510,399,1515.6,399,1521.2,399C1526.8,399,1532.4,399,1538.1,399C1543.7,399,1549.3,399,1554.9,399C1560.5,399,1566.1,399,1571.8,399C1577.4,399,1583,399,1588.6,399C1594.2,399,1599.8,399,1605.4,399C1611.1,399,1616.7,399,1622.3,399C1627.9,399,1633.5,399,1639.1,399C1644.8,399,1650.4,399,1656,399C1661.6,399,1667.2,399,1672.8,399C1678.4,399,1684.1,399,1689.7,399C1695.3,399,1700.9,399,1706.5,399C1712.1,399,1717.8,399,1723.4,399C1729,399,1734.6,399,1740.2,399C1745.8,399,1751.5,399,1757.1,399C1762.7,399,1768.3,399,1773.9,399C1779.5,399,1785.1,399,1790.8,399C1796.4,399,1802,399,1807.6,399C1813.2,399,1818.8,399,1824.5,399C1830.1,399,1835.7,399,1841.3,399C1846.9,399,1852.5,399,1858.2,399C1863.8,399,1869.4,399,1875,399C1880.6,399,1886.2,399,1891.8,399C1897.5,399,1903.1,399,1908.7,399C1914.3,399,1919.9,399,1925.5,399C1931.2,399,1936.8,399,1942.4,399C1948,399,1953.6,399,1959.2,399C1964.9,399,1970.5,399,1976.1,399C1981.7,399,1987.3,399,1992.9,399C1998.5,399,2004.2,399,2009.8,399C2015.4,399,2021,399,2026.6,399C2032.2,399,2037.9,399,2043.5,399C2049.1,399,2054.7,399,2060.3,399C2065.9,399,2071.6,399,2077.2,399C2082.8,399,2088.4,399,2094,399C2099.6,399,2105.2,399,2110.9,399C2116.5,399,2122.1,399,2127.7,399C2133.3,399,2138.9,399,2144.6,399C2150.2,399,2155.8,399,2161.4,399C2167,399,2172.6,399,2178.2,399C2183.9,399,2189.5,399,2195.1,399C2200.7,399,2206.3,399,2211.9,399C2217.6,399,2223.2,399,2228.8,399C2234.4,399,2240,399,2245.6,399C2251.3,399,2256.9,399,2262.5,399C2268.1,399,2273.7,399,2279.3,399C2284.9,399,2290.6,399,2296.2,399C2301.8,399,2307.4,399,2313,399C2318.6,399,2324.3,399,2329.9,399C2335.5,399,2341.1,399,2346.7,399C2352.3,399,2358,399,2363.6,399C2369.2,399,2374.8,399,2380.4,399C2386,399,2391.6,399,2397.3,399C2402.9,399,2408.5,399,2414.1,399C2419.7,399,2425.3,399,2431,399C2436.6,399,2442.2,399,2447.8,399C2453.4,399,2459,399,2464.7,399C2470.3,399,2475.9,399,2481.5,399C2487.1,399,2492.7,399,2498.3,399C2504,399,2509.6,399,2515.2,399C2520.8,399,2526.4,399,2532,399C2537.7,399,2543.3,399,2548.9,399C2554.5,399,2560.1,399,2565.7,399C2571.4,399,2577,399,2582.6,399C2588.2,399,2593.8,399,2599.4,399C2605,399,2610.7,399,2616.3,399C2621.9,399,2627.5,399,2633.1,399C2638.7,399,2644.4,399,2650,399C2655.6,399,2661.2,399,2666.8,399C2672.4,399,2678.1,399,2683.7,399C2689.3,399,2694.9,399,2700.5,399C2706.1,399,2711.7,399,2717.4,399C2723,399,2728.6,399,2734.2,399C2739.8,399,2745.4,399,2751.1,399C2756.7,399,2762.3,399,2767.9,399C2773.5,399,2779.1,399,2784.8,399C2790.4,399,2796,399,2801.6,399C2807.2,399,2812.8,399,2818.4,399C2824.1,399,2829.7,399,2835.3,399C2840.9,399,2846.5,399,2852.1,399C2857.8,399,2863.4,399,2869,399C2874.6,399,2880.2,399,2885.8,399C2891.4,399,2897.1,399,2902.7,399C2908.3,399,2913.9,399,2919.5,399C2925.1,399,2930.8,399,2936.4,399C2942,399,2947.6,399,2953.2,399C2958.8,399,2964.5,399,2970.1,399C2975.7,399,2981.3,399,2986.9,399C2992.5,399,2998.1,399,3003.8,399C3009.4,399,3015,399,3020.6,399C3026.2,399,3031.8,399,3037.5,399C3043.1,399,3048.7,399,3054.3,399C3059.9,399,3065.5,399,3071.2,399C3076.8,399,3082.4,399,3088,399L3088,399.6C3082.4,399.6,3076.8,399.6,3071.2,399.6C3065.5,399.6,3059.9,399.6,3054.3,399.6C3048.7,399.6,3043.1,399.6,3037.5,399.6C3031.8,399.6,3026.2,399.6,3020.6,399.6C3015,399.6,3009.4,403.3,3003.8,403.3C2998.1,403.3,2992.5,399.6,2986.9,399.6C2981.3,399.6,2975.7,399.6,2970.1,399.6C2964.5,399.6,2958.8,399.6,2953.2,399.6C2947.6,399.6,2942,402,2936.4,402C2930.8,402,2925.1,399.6,2919.5,399.6C2913.9,399.6,2908.3,399.6,2902.7,399.6C2897.1,399.6,2891.4,399.6,2885.8,399.6C2880.2,399.6,2874.6,399.6,2869,399.6C2863.4,399.6,2857.8,399.6,2852.1,399.6C2846.5,399.6,2840.9,399.6,2835.3,399.6C2829.7,399.6,2824.1,399.6,2818.4,399.6C2812.8,399.6,2807.2,399.6,2801.6,399.6C2796,399.6,2790.4,399.6,2784.8,399.6C2779.1,399.6,2773.5,399.6,2767.9,399.6C2762.3,399.6,2756.7,399.6,2751.1,399.6C2745.4,399.6,2739.8,399.6,2734.2,399.6C2728.6,399.6,2723,399.6,2717.4,399.6C2711.7,399.6,2706.1,399.6,2700.5,399.6C2694.9,399.6,2689.3,399.6,2683.7,399.6C2678.1,399.6,2672.4,399.6,2666.8,399.6C2661.2,399.6,2655.6,399.6,2650,399.6C2644.4,399.6,2638.7,399.6,2633.1,399.6C2627.5,399.6,2621.9,399.6,2616.3,399.6C2610.7,399.6,2605,399.6,2599.4,399.6C2593.8,399.6,2588.2,399.6,2582.6,399.6C2577,399.6,2571.4,399.6,2565.7,399.6C2560.1,399.6,2554.5,399.6,2548.9,399.6C2543.3,399.6,2537.7,399.6,2532,399.6C2526.4,399.6,2520.8,399.6,2515.2,399.6C2509.6,399.6,2504,402.6,2498.3,402.6C2492.7,402.6,2487.1,399.6,2481.5,399.6C2475.9,399.6,2470.3,399.6,2464.7,399.6C2459,399.6,2453.4,402.6,2447.8,402.6C2442.2,402.6,2436.6,399.6,2431,399.6C2425.3,399.6,2419.7,399.6,2414.1,399.6C2408.5,399.6,2402.9,399.6,2397.3,399.6C2391.6,399.6,2386,399.6,2380.4,399.6C2374.8,399.6,2369.2,399.6,2363.6,399.6C2358,399.6,2352.3,399.6,2346.7,399.6C2341.1,399.6,2335.5,406.3,2329.9,406.3C2324.3,406.3,2318.6,399.6,2313,399.6C2307.4,399.6,2301.8,399.6,2296.2,399.6C2290.6,399.6,2284.9,399.6,2279.3,399.6C2273.7,399.6,2268.1,399.6,2262.5,399.6C2256.9,399.6,2251.3,399.6,2245.6,399.6C2240,399.6,2234.4,399.6,2228.8,399.6C2223.2,399.6,2217.6,399.6,2211.9,399.6C2206.3,399.6,2200.7,399.6,2195.1,399.6C2189.5,399.6,2183.9,399.6,2178.2,399.6C2172.6,399.6,2167,399.6,2161.4,399.6C2155.8,399.6,2150.2,399.6,2144.6,399.6C2138.9,399.6,2133.3,399.6,2127.7,399.6C2122.1,399.6,2116.5,399.6,2110.9,399.6C2105.2,399.6,2099.6,399.6,2094,399.6C2088.4,399.6,2082.8,399.6,2077.2,399.6C2071.6,399.6,2065.9,399.6,2060.3,399.6C2054.7,399.6,2049.1,399.6,2043.5,399.6C2037.9,399.6,2032.2,399.6,2026.6,399.6C2021,399.6,2015.4,399.6,2009.8,399.6C2004.2,399.6,1998.5,399.6,1992.9,399.6C1987.3,399.6,1981.7,399.6,1976.1,399.6C1970.5,399.6,1964.9,405.1,1959.2,405.1C1953.6,405.1,1948,399.6,1942.4,399.6C1936.8,399.6,1931.2,399.6,1925.5,399.6C1919.9,399.6,1914.3,399.6,1908.7,399.6C1903.1,399.6,1897.5,399.6,1891.8,399.6C1886.2,399.6,1880.6,399.6,1875,399.6C1869.4,399.6,1863.8,399.6,1858.2,399.6C1852.5,399.6,1846.9,399.6,1841.3,399.6C1835.7,399.6,1830.1,399.6,1824.5,399.6C1818.8,399.6,1813.2,408.1,1807.6,408.1C1802,408.1,1796.4,399.6,1790.8,399.6C1785.1,399.6,1779.5,399.6,1773.9,399.6C1768.3,399.6,1762.7,399.6,1757.1,399.6C1751.5,399.6,1745.8,399.6,1740.2,399.6C1734.6,399.6,1729,399.6,1723.4,399.6C1717.8,399.6,1712.1,399.6,1706.5,399.6C1700.9,399.6,1695.3,399.6,1689.7,399.6C1684.1,399.6,1678.4,399.6,1672.8,399.6C1667.2,399.6,1661.6,399.6,1656,399.6C1650.4,399.6,1644.8,399.6,1639.1,399.6C1633.5,399.6,1627.9,399.6,1622.3,399.6C1616.7,399.6,1611.1,402.6,1605.4,402.6C1599.8,402.6,1594.2,399.6,1588.6,399.6C1583,399.6,1577.4,399.6,1571.8,399.6C1566.1,399.6,1560.5,399.6,1554.9,399.6C1549.3,399.6,1543.7,401.4,1538.1,401.4C1532.4,401.4,1526.8,399.6,1521.2,399.6C1515.6,399.6,1510,399.6,1504.4,399.6C1498.7,399.6,1493.1,399.6,1487.5,399.6C1481.9,399.6,1476.3,399.6,1470.7,399.6C1465.1,399.6,1459.4,399.6,1453.8,399.6C1448.2,399.6,1442.6,407.2,1437,407.2C1431.4,407.2,1425.7,399.6,1420.1,399.6C1414.5,399.6,1408.9,399.6,1403.3,399.6C1397.7,399.6,1392,399.6,1386.4,399.6C1380.8,399.6,1375.2,399.6,1369.6,399.6C1364,399.6,1358.4,399.6,1352.7,399.6C1347.1,399.6,1341.5,399.6,1335.9,399.6C1330.3,399.6,1324.7,399.6,1319,399.6C1313.4,399.6,1307.8,401.4,1302.2,401.4C1296.6,401.4,1291,399.6,1285.3,399.6C1279.7,399.6,1274.1,399.6,1268.5,399.6C1262.9,399.6,1257.3,399.6,1251.7,399.6C1246,399.6,1240.4,399.6,1234.8,399.6C1229.2,399.6,1223.6,399.6,1218,399.6C1212.3,399.6,1206.7,399.6,1201.1,399.6C1195.5,399.6,1189.9,399.6,1184.3,399.6C1178.6,399.6,1173,399.6,1167.4,399.6C1161.8,399.6,1156.2,399.6,1150.6,399.6C1145,399.6,1139.3,404.2,1133.7,404.2C1128.1,404.2,1122.5,399.6,1116.9,399.6C1111.3,399.6,1105.6,399.6,1100,399.6C1094.4,399.6,1088.8,399.6,1083.2,399.6C1077.6,399.6,1071.9,399.6,1066.3,399.6C1060.7,399.6,1055.1,401.5,1049.5,401.7C1043.9,401.9,1038.3,402,1032.6,402C1027,402,1021.4,399.6,1015.8,399.6C1010.2,399.6,1004.6,399.6,998.9,399.6C993.3,399.6,987.7,399.6,982.1,399.6C976.5,399.6,970.9,399.6,965.2,399.6C959.6,399.6,954,399.6,948.4,399.6C942.8,399.6,937.2,399.6,931.6,399.6C925.9,399.6,920.3,399.6,914.7,399.6C909.1,399.6,903.5,399.6,897.9,399.6C892.2,399.6,886.6,399.6,881,399.6C875.4,399.6,869.8,399.6,864.2,399.6C858.6,399.6,852.9,402.6,847.3,402.6C841.7,402.6,836.1,399.6,830.5,399.6C824.9,399.6,819.2,399.6,813.6,399.6C808,399.6,802.4,399.6,796.8,399.6C791.2,399.6,785.5,408.1,779.9,408.1C774.3,408.1,768.7,399.6,763.1,399.6C757.5,399.6,751.9,399.6,746.2,399.6C740.6,399.6,735,399.6,729.4,399.6C723.8,399.6,718.2,404.2,712.5,404.2C706.9,404.2,701.3,399.6,695.7,399.6C690.1,399.6,684.5,399.6,678.8,399.6C673.2,399.6,667.6,399.6,662,399.6Z" fill="#6db19a" fill-opacity=".3"/>
<line x1="662.0" x2="3088.0" y1="542.8" y2="542.8" stroke="#000" stroke-opacity=".07" stroke-width="2"/>
<line x1="662.0" x2="3088.0" y1="686.5" y2="686.5" stroke="#000" stroke-opacity=".06" stroke-width="2"/>
<g clip-path="url(#c1)">
<path d="M662,659.2C667.6,658.3,673.2,657.5,678.8,656.1C684.5,654.8,690.1,652.8,695.7,651C701.3,649.2,706.9,648.7,712.5,645.5C718.2,642.3,723.8,636.7,729.4,631.9C735,627,740.6,626.8,746.2,616.7C751.9,606.6,757.5,542.3,763.1,542.3C768.7,542.3,774.3,548.4,779.9,560.5C785.5,572.7,791.2,631.9,796.8,631.9C802.4,631.9,808,627.3,813.6,618.2C819.2,609.1,824.9,546.8,830.5,546.8C836.1,546.8,841.7,623.7,847.3,623.7C852.9,623.7,858.6,609.1,864.2,609.1C869.8,609.1,875.4,645.5,881,645.5C886.6,645.5,892.2,628.3,897.9,621.2C903.5,614.1,909.1,603,914.7,603C920.3,603,925.9,668.3,931.6,668.3C937.2,668.3,942.8,624.9,948.4,624.9C954,624.9,959.6,644,965.2,644C970.9,644,976.5,588.4,982.1,588.4C987.7,588.4,993.3,686.5,998.9,686.5C1004.6,686.5,1010.2,626.7,1015.8,626.7C1021.4,626.7,1027,634.3,1032.6,634.3C1038.3,634.3,1043.9,619.7,1049.5,619.7C1055.1,619.7,1060.7,671.3,1066.3,671.3C1071.9,671.3,1077.6,589.4,1083.2,589.4C1088.8,589.4,1094.4,684.4,1100,684.4C1105.6,684.4,1111.3,619.2,1116.9,609.1C1122.5,599,1128.1,593.9,1133.7,593.9C1139.3,593.9,1145,633.1,1150.6,648.6C1156.2,664,1161.8,686.5,1167.4,686.5C1173,686.5,1178.6,686.5,1184.3,686.5C1189.9,686.5,1195.5,628.8,1201.1,628.8C1206.7,628.8,1212.3,686.5,1218,686.5C1223.6,686.5,1229.2,646.3,1234.8,633.4C1240.4,620.5,1246,609.1,1251.7,609.1C1257.3,609.1,1262.9,684.4,1268.5,684.4C1274.1,684.4,1279.7,596.9,1285.3,596.9C1291,596.9,1296.6,614,1302.2,628.8C1307.8,643.6,1313.4,685.6,1319,685.6C1324.7,685.6,1330.3,659.3,1335.9,642.5C1341.5,625.7,1347.1,584.8,1352.7,584.8C1358.4,584.8,1364,686.5,1369.6,686.5C1375.2,686.5,1380.8,464.9,1386.4,464.9C1392,464.9,1397.7,557,1403.3,593.9C1408.9,630.8,1414.5,686.5,1420.1,686.5C1425.7,686.5,1431.4,599,1437,587.8C1442.6,576.7,1448.2,571.1,1453.8,571.1C1459.4,571.1,1465.1,684.4,1470.7,684.4C1476.3,684.4,1481.9,684.4,1487.5,684.4C1493.1,684.4,1498.7,542.3,1504.4,542.3C1510,542.3,1515.6,600.1,1521.2,618.2C1526.8,636.3,1532.4,651,1538.1,651C1543.7,651,1549.3,531.1,1554.9,531.1C1560.5,531.1,1566.1,589.4,1571.8,615.2C1577.4,640.9,1583,685.6,1588.6,685.6C1594.2,685.6,1599.8,610.6,1605.4,610.6C1611.1,610.6,1616.7,686.5,1622.3,686.5C1627.9,686.5,1633.5,685.8,1639.1,684.4C1644.8,683,1650.4,603.9,1656,603.9C1661.6,603.9,1667.2,685.6,1672.8,685.6C1678.4,685.6,1684.1,618.2,1689.7,618.2C1695.3,618.2,1700.9,686.5,1706.5,686.5C1712.1,686.5,1717.8,686.5,1723.4,686.5C1729,686.5,1734.6,653.6,1740.2,639.4C1745.8,625.3,1751.5,601.5,1757.1,601.5C1762.7,601.5,1768.3,686.5,1773.9,686.5C1779.5,686.5,1785.1,675.4,1790.8,653.1C1796.4,630.8,1802,533.2,1807.6,533.2C1813.2,533.2,1818.8,554.5,1824.5,569.6C1830.1,584.7,1835.7,623.7,1841.3,623.7C1846.9,623.7,1852.5,525.6,1858.2,525.6C1863.8,525.6,1869.4,595.4,1875,595.4C1880.6,595.4,1886.2,562.9,1891.8,562.9C1897.5,562.9,1903.1,681.4,1908.7,683.5C1914.3,685.5,1919.9,686.5,1925.5,686.5C1931.2,686.5,1936.8,685.5,1942.4,683.5C1948,681.4,1953.6,612.1,1959.2,612.1C1964.9,612.1,1970.5,613.6,1976.1,616.7C1981.7,619.7,1987.3,685,1992.9,685C1998.5,685,2004.2,543.8,2009.8,543.8C2015.4,543.8,2021,634.3,2026.6,634.3C2032.2,634.3,2037.9,607.7,2043.5,596.9C2049.1,586.2,2054.7,569.6,2060.3,569.6C2065.9,569.6,2071.6,627.3,2077.2,627.3C2082.8,627.3,2088.4,623.2,2094,621.2C2099.6,619.3,2105.2,615.8,2110.9,615.8C2116.5,615.8,2122.1,686.5,2127.7,686.5C2133.3,686.5,2138.9,640.1,2144.6,640.1C2150.2,640.1,2155.8,665.3,2161.4,672.8C2167,680.3,2172.6,685,2178.2,685C2183.9,685,2189.5,649.1,2195.1,636.4C2200.7,623.8,2206.3,611.5,2211.9,609.1C2217.6,606.7,2223.2,605.4,2228.8,605.4C2234.4,605.4,2240,616.4,2245.6,620.6C2251.3,624.9,2256.9,624.1,2262.5,630.9C2268.1,637.8,2273.7,675.9,2279.3,675.9C2284.9,675.9,2290.6,603,2296.2,603C2301.8,603,2307.4,684.4,2313,684.4C2318.6,684.4,2324.3,637,2329.9,637C2335.5,637,2341.1,652.2,2346.7,652.2C2352.3,652.2,2358,635.5,2363.6,634.9C2369.2,634.3,2374.8,634.6,2380.4,634C2386,633.4,2391.6,625.6,2397.3,612.1C2402.9,598.6,2408.5,552.9,2414.1,552.9C2419.7,552.9,2425.3,637,2431,637C2436.6,637,2442.2,597.5,2447.8,597.5C2453.4,597.5,2459,685.6,2464.7,685.6C2470.3,685.6,2475.9,621.2,2481.5,612.1C2487.1,603,2492.7,598.5,2498.3,598.5C2504,598.5,2509.6,638.8,2515.2,638.8C2520.8,638.8,2526.4,632.2,2532,624.3C2537.7,616.4,2543.3,591.5,2548.9,591.5C2554.5,591.5,2560.1,631.9,2565.7,631.9C2571.4,631.9,2577,627.5,2582.6,623.7C2588.2,619.9,2593.8,609.1,2599.4,609.1C2605,609.1,2610.7,686.5,2616.3,686.5C2621.9,686.5,2627.5,673,2633.1,660.7C2638.7,648.4,2644.4,612.7,2650,612.7C2655.6,612.7,2661.2,683,2666.8,684.4C2672.4,685.8,2678.1,686.5,2683.7,686.5C2689.3,686.5,2694.9,686,2700.5,685C2706.1,684,2711.7,610.6,2717.4,610.6C2723,610.6,2728.6,686.5,2734.2,686.5C2739.8,686.5,2745.4,590.9,2751.1,590.9C2756.7,590.9,2762.3,592.4,2767.9,595.4C2773.5,598.5,2779.1,623.1,2784.8,637.9C2790.4,652.8,2796,684.4,2801.6,684.4C2807.2,684.4,2812.8,646.1,2818.4,646.1C2824.1,646.1,2829.7,686.5,2835.3,686.5C2840.9,686.5,2846.5,624.3,2852.1,618.2C2857.8,612.1,2863.4,609.1,2869,609.1C2874.6,609.1,2880.2,627.3,2885.8,639.4C2891.4,651.6,2897.1,680.3,2902.7,681.9C2908.3,683.6,2913.9,684.4,2919.5,684.4C2925.1,684.4,2930.8,660.1,2936.4,647C2942,634,2947.6,614.1,2953.2,606C2958.8,598,2964.5,593.9,2970.1,593.9C2975.7,593.9,2981.3,619.7,2986.9,619.7C2992.5,619.7,2998.1,605.4,3003.8,605.4C3009.4,605.4,3015,686.5,3020.6,686.5C3026.2,686.5,3031.8,658.2,3037.5,641C3043.1,623.8,3048.7,583.3,3054.3,583.3C3059.9,583.3,3065.5,617.9,3071.2,634.9C3076.8,651.8,3082.4,668.4,3088,685" fill="none" stroke="#8c71b3" stroke-width="4" stroke-linejoin="round"/>
<path d="M662,478.5C667.6,466.1,673.2,453.6,678.8,453.6C684.5,453.6,690.1,457.3,695.7,457.3C701.3,457.3,706.9,451.2,712.5,451.2C718.2,451.2,723.8,488.6,729.4,499.8C735,511,740.6,518.6,746.2,518.6C751.9,518.6,757.5,503.7,763.1,503.7C768.7,503.7,774.3,544.4,779.9,544.4C785.5,544.4,791.2,492.6,796.8,483.1C802.4,473.6,808,468.8,813.6,468.8C819.2,468.8,824.9,545.3,830.5,545.3C836.1,545.3,841.7,468,847.3,467C852.9,466,858.6,466.5,864.2,465.5C869.8,464.5,875.4,458.8,881,458.8C886.6,458.8,892.2,468.7,897.9,478.5C903.5,488.4,909.1,518,914.7,518C920.3,518,925.9,431.5,931.6,431.5C937.2,431.5,942.8,458,948.4,466.4C954,474.7,959.6,471.5,965.2,481.6C970.9,491.7,976.5,532.6,982.1,532.6C987.7,532.6,993.3,422.4,998.9,422.4C1004.6,422.4,1010.2,448.3,1015.8,456.7C1021.4,465,1027,465.3,1032.6,472.5C1038.3,479.7,1043.9,499.8,1049.5,499.8C1055.1,499.8,1060.7,429.1,1066.3,429.1C1071.9,429.1,1077.6,496.8,1083.2,496.8C1088.8,496.8,1094.4,422.4,1100,422.4C1105.6,422.4,1111.3,459.8,1116.9,475.5C1122.5,491.2,1128.1,516.5,1133.7,516.5C1139.3,516.5,1145,507.4,1150.6,507.4C1156.2,507.4,1161.8,634.8,1167.4,641.9C1173,649,1178.6,652.5,1184.3,652.5C1189.9,652.5,1195.5,488.7,1201.1,460.3C1206.7,432,1212.3,417.8,1218,417.8C1223.6,417.8,1229.2,451.8,1234.8,457.3C1240.4,462.8,1246,465.5,1251.7,465.5C1257.3,465.5,1262.9,448.2,1268.5,448.2C1274.1,448.2,1279.7,498.3,1285.3,498.3C1291,498.3,1296.6,476.5,1302.2,460.3C1307.8,444.1,1313.4,401.1,1319,401.1C1324.7,401.1,1330.3,482.1,1335.9,492.2C1341.5,502.3,1347.1,507.4,1352.7,507.4C1358.4,507.4,1364,436,1369.6,436C1375.2,436,1380.8,445.7,1386.4,454.3C1392,462.9,1397.7,465.4,1403.3,487.6C1408.9,509.9,1414.5,611.5,1420.1,611.5C1425.7,611.5,1431.4,484,1437,484C1442.6,484,1448.2,499.2,1453.8,499.2C1459.4,499.2,1465.1,401.1,1470.7,401.1C1476.3,401.1,1481.9,408.2,1487.5,422.4C1493.1,436.5,1498.7,536.8,1504.4,536.8C1510,536.8,1515.6,472.5,1521.2,472.5C1526.8,472.5,1532.4,472.7,1538.1,473.1C1543.7,473.5,1549.3,511.3,1554.9,511.3C1560.5,511.3,1566.1,494.6,1571.8,484.6C1577.4,474.6,1583,451.2,1588.6,451.2C1594.2,451.2,1599.8,463.4,1605.4,487.6C1611.1,511.9,1616.7,654.6,1622.3,654.6C1627.9,654.6,1633.5,448.8,1639.1,448.8C1644.8,448.8,1650.4,508.3,1656,508.3C1661.6,508.3,1667.2,401.1,1672.8,401.1C1678.4,401.1,1684.1,472.5,1689.7,513.5C1695.3,554.4,1700.9,639.5,1706.5,647C1712.1,654.5,1717.8,658.3,1723.4,658.3C1729,658.3,1734.6,474,1740.2,474C1745.8,474,1751.5,491.3,1757.1,491.3C1762.7,491.3,1768.3,452.7,1773.9,452.7C1779.5,452.7,1785.1,458.5,1790.8,470C1796.4,481.6,1802,532.6,1807.6,532.6C1813.2,532.6,1818.8,530.6,1824.5,526.5C1830.1,522.5,1835.7,457.9,1841.3,457.9C1846.9,457.9,1852.5,511.5,1858.2,524.1C1863.8,536.6,1869.4,542.9,1875,542.9C1880.6,542.9,1886.2,536.6,1891.8,524.1C1897.5,511.5,1903.1,419.3,1908.7,419.3C1914.3,419.3,1919.9,654.6,1925.5,654.6C1931.2,654.6,1936.8,420.9,1942.4,420.9C1948,420.9,1953.6,497.4,1959.2,497.4C1964.9,497.4,1970.5,485.5,1976.1,474C1981.7,462.5,1987.3,428.4,1992.9,428.4C1998.5,428.4,2004.2,508.3,2009.8,508.3C2015.4,508.3,2021,494.4,2026.6,490.1C2032.2,485.8,2037.9,482.5,2043.5,482.5C2049.1,482.5,2054.7,503.7,2060.3,503.7C2065.9,503.7,2071.6,473.4,2077.2,464.9C2082.8,456.4,2088.4,452.1,2094,452.1C2099.6,452.1,2105.2,466.5,2110.9,495.2C2116.5,524,2122.1,657.7,2127.7,657.7C2133.3,657.7,2138.9,516.4,2144.6,475.5C2150.2,434.6,2155.8,412.4,2161.4,412.4C2167,412.4,2172.6,417,2178.2,426.3C2183.9,435.6,2189.5,478.5,2195.1,478.5C2200.7,478.5,2206.3,471,2211.9,471C2217.6,471,2223.2,511.9,2228.8,511.9C2234.4,511.9,2240,491.9,2245.6,484.6C2251.3,477.3,2256.9,479,2262.5,467.9C2268.1,456.8,2273.7,415.7,2279.3,415.7C2284.9,415.7,2290.6,515.6,2296.2,515.6C2301.8,515.6,2307.4,436,2313,436C2318.6,436,2324.3,491.3,2329.9,491.3C2335.5,491.3,2341.1,482.2,2346.7,477C2352.3,471.9,2358,460.3,2363.6,460.3C2369.2,460.3,2374.8,482.2,2380.4,482.2C2386,482.2,2391.6,464.9,2397.3,464.9C2402.9,464.9,2408.5,510.4,2414.1,510.4C2419.7,510.4,2425.3,492.5,2431,486.1C2436.6,479.8,2442.2,481.6,2447.8,472.5C2453.4,463.4,2459,416.3,2464.7,416.3C2470.3,416.3,2475.9,459.7,2481.5,477C2487.1,494.4,2492.7,520.4,2498.3,520.4C2504,520.4,2509.6,447.6,2515.2,447.6C2520.8,447.6,2526.4,480.7,2532,480.7C2537.7,480.7,2543.3,478.1,2548.9,473.4C2554.5,468.6,2560.1,452.1,2565.7,452.1C2571.4,452.1,2577,495.2,2582.6,495.2C2588.2,495.2,2593.8,476.1,2599.4,476.1C2605,476.1,2610.7,657.7,2616.3,657.7C2621.9,657.7,2627.5,654.1,2633.1,647C2638.7,639.9,2644.4,473.5,2650,454.3C2655.6,435,2661.2,425.4,2666.8,425.4C2672.4,425.4,2678.1,649.5,2683.7,649.5C2689.3,649.5,2694.9,440,2700.5,440C2706.1,440,2711.7,452.8,2717.4,478.5C2723,504.2,2728.6,654.6,2734.2,654.6C2739.8,654.6,2745.4,522.1,2751.1,505.9C2756.7,489.7,2762.3,490.1,2767.9,481.6C2773.5,473.1,2779.1,457.9,2784.8,454.9C2790.4,451.8,2796,450.3,2801.6,450.3C2807.2,450.3,2812.8,458.5,2818.4,474.9C2824.1,491.3,2829.7,646.4,2835.3,646.4C2840.9,646.4,2846.5,458.2,2852.1,458.2C2857.8,458.2,2863.4,482.2,2869,482.2C2874.6,482.2,2880.2,476.9,2885.8,469.4C2891.4,462,2897.1,445.9,2902.7,437.6C2908.3,429.2,2913.9,419.3,2919.5,419.3C2925.1,419.3,2930.8,463.9,2936.4,474C2942,484.1,2947.6,489.2,2953.2,489.2C2958.8,489.2,2964.5,486.1,2970.1,486.1C2975.7,486.1,2981.3,486.3,2986.9,486.7C2992.5,487.1,2998.1,494.1,3003.8,508.9C3009.4,523.7,3015,654,3020.6,654C3026.2,654,3031.8,644.1,3037.5,624.3C3043.1,604.4,3048.7,454.3,3054.3,454.3C3059.9,454.3,3065.5,519.5,3071.2,519.5C3076.8,519.5,3082.4,486.1,3088,452.7" fill="none" stroke="#c56786" stroke-width="4" stroke-linejoin="round"/>
<path d="M662,399.6C667.6,399.6,673.2,399.6,678.8,399.6C684.5,399.6,690.1,399.6,695.7,399.6C701.3,399.6,706.9,404.2,712.5,404.2C718.2,404.2,723.8,399.6,729.4,399.6C735,399.6,740.6,399.6,746.2,399.6C751.9,399.6,757.5,399.6,763.1,399.6C768.7,399.6,774.3,408.1,779.9,408.1C785.5,408.1,791.2,399.6,796.8,399.6C802.4,399.6,808,399.6,813.6,399.6C819.2,399.6,824.9,399.6,830.5,399.6C836.1,399.6,841.7,402.6,847.3,402.6C852.9,402.6,858.6,399.6,864.2,399.6C869.8,399.6,875.4,399.6,881,399.6C886.6,399.6,892.2,399.6,897.9,399.6C903.5,399.6,909.1,399.6,914.7,399.6C920.3,399.6,925.9,399.6,931.6,399.6C937.2,399.6,942.8,399.6,948.4,399.6C954,399.6,959.6,399.6,965.2,399.6C970.9,399.6,976.5,399.6,982.1,399.6C987.7,399.6,993.3,399.6,998.9,399.6C1004.6,399.6,1010.2,399.6,1015.8,399.6C1021.4,399.6,1027,402,1032.6,402C1038.3,402,1043.9,401.9,1049.5,401.7C1055.1,401.5,1060.7,399.6,1066.3,399.6C1071.9,399.6,1077.6,399.6,1083.2,399.6C1088.8,399.6,1094.4,399.6,1100,399.6C1105.6,399.6,1111.3,399.6,1116.9,399.6C1122.5,399.6,1128.1,404.2,1133.7,404.2C1139.3,404.2,1145,399.6,1150.6,399.6C1156.2,399.6,1161.8,399.6,1167.4,399.6C1173,399.6,1178.6,399.6,1184.3,399.6C1189.9,399.6,1195.5,399.6,1201.1,399.6C1206.7,399.6,1212.3,399.6,1218,399.6C1223.6,399.6,1229.2,399.6,1234.8,399.6C1240.4,399.6,1246,399.6,1251.7,399.6C1257.3,399.6,1262.9,399.6,1268.5,399.6C1274.1,399.6,1279.7,399.6,1285.3,399.6C1291,399.6,1296.6,401.4,1302.2,401.4C1307.8,401.4,1313.4,399.6,1319,399.6C1324.7,399.6,1330.3,399.6,1335.9,399.6C1341.5,399.6,1347.1,399.6,1352.7,399.6C1358.4,399.6,1364,399.6,1369.6,399.6C1375.2,399.6,1380.8,399.6,1386.4,399.6C1392,399.6,1397.7,399.6,1403.3,399.6C1408.9,399.6,1414.5,399.6,1420.1,399.6C1425.7,399.6,1431.4,407.2,1437,407.2C1442.6,407.2,1448.2,399.6,1453.8,399.6C1459.4,399.6,1465.1,399.6,1470.7,399.6C1476.3,399.6,1481.9,399.6,1487.5,399.6C1493.1,399.6,1498.7,399.6,1504.4,399.6C1510,399.6,1515.6,399.6,1521.2,399.6C1526.8,399.6,1532.4,401.4,1538.1,401.4C1543.7,401.4,1549.3,399.6,1554.9,399.6C1560.5,399.6,1566.1,399.6,1571.8,399.6C1577.4,399.6,1583,399.6,1588.6,399.6C1594.2,399.6,1599.8,402.6,1605.4,402.6C1611.1,402.6,1616.7,399.6,1622.3,399.6C1627.9,399.6,1633.5,399.6,1639.1,399.6C1644.8,399.6,1650.4,399.6,1656,399.6C1661.6,399.6,1667.2,399.6,1672.8,399.6C1678.4,399.6,1684.1,399.6,1689.7,399.6C1695.3,399.6,1700.9,399.6,1706.5,399.6C1712.1,399.6,1717.8,399.6,1723.4,399.6C1729,399.6,1734.6,399.6,1740.2,399.6C1745.8,399.6,1751.5,399.6,1757.1,399.6C1762.7,399.6,1768.3,399.6,1773.9,399.6C1779.5,399.6,1785.1,399.6,1790.8,399.6C1796.4,399.6,1802,408.1,1807.6,408.1C1813.2,408.1,1818.8,399.6,1824.5,399.6C1830.1,399.6,1835.7,399.6,1841.3,399.6C1846.9,399.6,1852.5,399.6,1858.2,399.6C1863.8,399.6,1869.4,399.6,1875,399.6C1880.6,399.6,1886.2,399.6,1891.8,399.6C1897.5,399.6,1903.1,399.6,1908.7,399.6C1914.3,399.6,1919.9,399.6,1925.5,399.6C1931.2,399.6,1936.8,399.6,1942.4,399.6C1948,399.6,1953.6,405.1,1959.2,405.1C1964.9,405.1,1970.5,399.6,1976.1,399.6C1981.7,399.6,1987.3,399.6,1992.9,399.6C1998.5,399.6,2004.2,399.6,2009.8,399.6C2015.4,399.6,2021,399.6,2026.6,399.6C2032.2,399.6,2037.9,399.6,2043.5,399.6C2049.1,399.6,2054.7,399.6,2060.3,399.6C2065.9,399.6,2071.6,399.6,2077.2,399.6C2082.8,399.6,2088.4,399.6,2094,399.6C2099.6,399.6,2105.2,399.6,2110.9,399.6C2116.5,399.6,2122.1,399.6,2127.7,399.6C2133.3,399.6,2138.9,399.6,2144.6,399.6C2150.2,399.6,2155.8,399.6,2161.4,399.6C2167,399.6,2172.6,399.6,2178.2,399.6C2183.9,399.6,2189.5,399.6,2195.1,399.6C2200.7,399.6,2206.3,399.6,2211.9,399.6C2217.6,399.6,2223.2,399.6,2228.8,399.6C2234.4,399.6,2240,399.6,2245.6,399.6C2251.3,399.6,2256.9,399.6,2262.5,399.6C2268.1,399.6,2273.7,399.6,2279.3,399.6C2284.9,399.6,2290.6,399.6,2296.2,399.6C2301.8,399.6,2307.4,399.6,2313,399.6C2318.6,399.6,2324.3,406.3,2329.9,406.3C2335.5,406.3,2341.1,399.6,2346.7,399.6C2352.3,399.6,2358,399.6,2363.6,399.6C2369.2,399.6,2374.8,399.6,2380.4,399.6C2386,399.6,2391.6,399.6,2397.3,399.6C2402.9,399.6,2408.5,399.6,2414.1,399.6C2419.7,399.6,2425.3,399.6,2431,399.6C2436.6,399.6,2442.2,402.6,2447.8,402.6C2453.4,402.6,2459,399.6,2464.7,399.6C2470.3,399.6,2475.9,399.6,2481.5,399.6C2487.1,399.6,2492.7,402.6,2498.3,402.6C2504,402.6,2509.6,399.6,2515.2,399.6C2520.8,399.6,2526.4,399.6,2532,399.6C2537.7,399.6,2543.3,399.6,2548.9,399.6C2554.5,399.6,2560.1,399.6,2565.7,399.6C2571.4,399.6,2577,399.6,2582.6,399.6C2588.2,399.6,2593.8,399.6,2599.4,399.6C2605,399.6,2610.7,399.6,2616.3,399.6C2621.9,399.6,2627.5,399.6,2633.1,399.6C2638.7,399.6,2644.4,399.6,2650,399.6C2655.6,399.6,2661.2,399.6,2666.8,399.6C2672.4,399.6,2678.1,399.6,2683.7,399.6C2689.3,399.6,2694.9,399.6,2700.5,399.6C2706.1,399.6,2711.7,399.6,2717.4,399.6C2723,399.6,2728.6,399.6,2734.2,399.6C2739.8,399.6,2745.4,399.6,2751.1,399.6C2756.7,399.6,2762.3,399.6,2767.9,399.6C2773.5,399.6,2779.1,399.6,2784.8,399.6C2790.4,399.6,2796,399.6,2801.6,399.6C2807.2,399.6,2812.8,399.6,2818.4,399.6C2824.1,399.6,2829.7,399.6,2835.3,399.6C2840.9,399.6,2846.5,399.6,2852.1,399.6C2857.8,399.6,2863.4,399.6,2869,399.6C2874.6,399.6,2880.2,399.6,2885.8,399.6C2891.4,399.6,2897.1,399.6,2902.7,399.6C2908.3,399.6,2913.9,399.6,2919.5,399.6C2925.1,399.6,2930.8,402,2936.4,402C2942,402,2947.6,399.6,2953.2,399.6C2958.8,399.6,2964.5,399.6,2970.1,399.6C2975.7,399.6,2981.3,399.6,2986.9,399.6C2992.5,399.6,2998.1,403.3,3003.8,403.3C3009.4,403.3,3015,399.6,3020.6,399.6C3026.2,399.6,3031.8,399.6,3037.5,399.6C3043.1,399.6,3048.7,399.6,3054.3,399.6C3059.9,399.6,3065.5,399.6,3071.2,399.6C3076.8,399.6,3082.4,399.6,3088,399.6" fill="none" stroke="#6b91bc" stroke-width="4" stroke-linejoin="round"/>
</g>
<line x1="662.0" x2="3088.0" y1="399.0" y2="399.0" stroke="#6db19a" stroke-width="4"/>
<line x1="1473.3" x2="1473.3" y1="399.0" y2="686.5" stroke="#367b73" stroke-width="2"/>
<circle cx="1472.3" cy="380.7" r="8" fill="#367b73"/></g>
<g id="chart-duration"><line x1="662.0" x2="1754.0" y1="963" y2="963" stroke="#e4e5e8" stroke-width="2"/>
<line x1="662.0" x2="1754.0" y1="1170.5" y2="1170.5" stroke="#e4e5e8" stroke-width="2"/>
<line x1="662.0" x2="1754.0" y1="1378" y2="1378" stroke="#e4e5e8" stroke-width="2"/>
<line x1="662.0" x2="1754.0" y1="1379" y2="1379" stroke="#e3e4e8" stroke-width="4"/>
<g clip-path="url(#c2)">
<path d="M662,1378.7C664.5,1378.7,667.1,1378.7,669.6,1378.7C672.1,1378.7,674.6,1378.7,677.2,1378.7C679.7,1378.7,682.2,1378.7,684.8,1378.7C687.3,1378.7,689.8,1378.7,692.3,1378.7C694.9,1378.7,697.4,1378.7,699.9,1378.7C702.4,1378.7,705,1378.7,707.5,1378.7C710,1378.7,712.6,1378.7,715.1,1378.7C717.6,1378.7,720.1,1378.7,722.7,1378.7C725.2,1378.7,727.7,1378.7,730.2,1378.7C732.8,1378.7,735.3,1378.7,737.8,1378.7C740.4,1378.7,742.9,1378.7,745.4,1378.7C747.9,1378.7,750.5,1378.7,753,1378.7C755.5,1378.7,758.1,1378.7,760.6,1378.7C763.1,1378.7,765.6,1378.7,768.2,1378.7C770.7,1378.7,773.2,1378.7,775.8,1378.7C778.3,1378.7,780.8,1378.7,783.3,1378.7C785.9,1378.7,788.4,1378.7,790.9,1378.7C793.4,1378.7,796,1378.7,798.5,1378.7C801,1378.7,803.6,1378.7,806.1,1378.7C808.6,1378.7,811.1,1378.7,813.7,1378.7C816.2,1378.7,818.7,1378.7,821.2,1378.7C823.8,1378.7,826.3,1378.7,828.8,1378.7C831.4,1378.7,833.9,1378.7,836.4,1378.7C838.9,1378.7,841.5,1378.7,844,1378.7C846.5,1378.7,849.1,1378.7,851.6,1378.7C854.1,1378.7,856.6,1378.7,859.2,1378.7C861.7,1378.7,864.2,1378.7,866.8,1378.7C869.3,1378.7,871.8,1378.7,874.3,1378.7C876.9,1378.7,879.4,1378.7,881.9,1378.7C884.4,1378.7,887,1376.7,889.5,1376.7C892,1376.7,894.6,1376.7,897.1,1376.7C899.6,1376.7,902.1,1378.7,904.7,1378.7C907.2,1378.7,909.7,1378.7,912.2,1378.7C914.8,1378.7,917.3,1378.7,919.8,1378.7C922.4,1378.7,924.9,1378.7,927.4,1378.7C929.9,1378.7,932.5,1378.7,935,1378.7C937.5,1378.7,940.1,1378.7,942.6,1378.7C945.1,1378.7,947.6,1378.7,950.2,1378.7C952.7,1378.7,955.2,1378.7,957.8,1378.7C960.3,1378.7,962.8,1378.7,965.3,1378.7C967.9,1378.7,970.4,1378.7,972.9,1378.7C975.4,1378.7,978,1318.9,980.5,1318.9C983,1318.9,985.6,1378.7,988.1,1378.7C990.6,1378.7,993.1,1378.7,995.7,1378.7C998.2,1378.7,1000.7,1337,1003.2,1337C1005.8,1337,1008.3,1378.7,1010.8,1378.7C1013.4,1378.7,1015.9,1378.7,1018.4,1378.7C1020.9,1378.7,1023.5,1378.7,1026,1378.7C1028.5,1378.7,1031.1,1378.7,1033.6,1378.7C1036.1,1378.7,1038.6,1378.7,1041.2,1378.7C1043.7,1378.7,1046.2,1378.7,1048.8,1378.7C1051.3,1378.7,1053.8,1378.7,1056.3,1378.7C1058.9,1378.7,1061.4,1378.7,1063.9,1378.7C1066.4,1378.7,1069,1378.7,1071.5,1378.7C1074,1378.7,1076.6,1378.7,1079.1,1378.7C1081.6,1378.7,1084.1,1378.7,1086.7,1378.7C1089.2,1378.7,1091.7,1378.7,1094.2,1378.7C1096.8,1378.7,1099.3,1378.7,1101.8,1378.7C1104.4,1378.7,1106.9,1378.7,1109.4,1378.7C1111.9,1378.7,1114.5,1378.7,1117,1378.7C1119.5,1378.7,1122.1,1378.7,1124.6,1378.7C1127.1,1378.7,1129.6,1378.7,1132.2,1378.7C1134.7,1378.7,1137.2,1378.7,1139.8,1378.7C1142.3,1378.7,1144.8,1378.7,1147.3,1378.7C1149.9,1378.7,1152.4,1378.7,1154.9,1378.7C1157.4,1378.7,1160,1312,1162.5,1312C1165,1312,1167.6,1378.7,1170.1,1378.7C1172.6,1378.7,1175.1,1378.7,1177.7,1378.7C1180.2,1378.7,1182.7,1378.7,1185.2,1378.7C1187.8,1378.7,1190.3,1378.7,1192.8,1378.7C1195.4,1378.7,1197.9,1378.7,1200.4,1378.7C1202.9,1378.7,1205.5,1378.7,1208,1378.7C1210.5,1378.7,1213.1,1378.7,1215.6,1378.7C1218.1,1378.7,1220.6,1378.7,1223.2,1378.7C1225.7,1378.7,1228.2,1378.7,1230.8,1378.7C1233.3,1378.7,1235.8,1378.7,1238.3,1378.7C1240.9,1378.7,1243.4,1378.7,1245.9,1378.7C1248.4,1378.7,1251,1378.7,1253.5,1378.7C1256,1378.7,1258.6,1378.7,1261.1,1378.7C1263.6,1378.7,1266.1,1378.7,1268.7,1378.7C1271.2,1378.7,1273.7,1378.7,1276.2,1378.7C1278.8,1378.7,1281.3,1378.7,1283.8,1378.7C1286.4,1378.7,1288.9,1378.7,1291.4,1378.7C1293.9,1378.7,1296.5,1378.7,1299,1378.7C1301.5,1378.7,1304.1,1378.7,1306.6,1378.7C1309.1,1378.7,1311.6,1378.7,1314.2,1378.7C1316.7,1378.7,1319.2,1378.7,1321.8,1378.7C1324.3,1378.7,1326.8,1378.7,1329.3,1378.7C1331.9,1378.7,1334.4,1378.7,1336.9,1378.7C1339.4,1378.7,1342,1378.7,1344.5,1378.7C1347,1378.7,1349.6,1378.7,1352.1,1378.7C1354.6,1378.7,1357.1,1378.7,1359.7,1378.7C1362.2,1378.7,1364.7,1378.7,1367.2,1378.7C1369.8,1378.7,1372.3,1378.7,1374.8,1378.7C1377.4,1378.7,1379.9,1378.7,1382.4,1378.7C1384.9,1378.7,1387.5,1378.7,1390,1378.7C1392.5,1378.7,1395.1,1378.7,1397.6,1378.7C1400.1,1378.7,1402.6,1378.7,1405.2,1378.7C1407.7,1378.7,1410.2,1378.7,1412.8,1378.7C1415.3,1378.7,1417.8,1378.7,1420.3,1378.7C1422.9,1378.7,1425.4,1378.7,1427.9,1378.7C1430.4,1378.7,1433,1378.7,1435.5,1378.7C1438,1378.7,1440.6,1378.7,1443.1,1378.7C1445.6,1378.7,1448.1,1378.7,1450.7,1378.7C1453.2,1378.7,1455.7,1378.7,1458.2,1378.7C1460.8,1378.7,1463.3,1378.7,1465.8,1378.7C1468.4,1378.7,1470.9,1378.7,1473.4,1378.7C1475.9,1378.7,1478.5,1378.7,1481,1378.7C1483.5,1378.7,1486.1,1378.7,1488.6,1378.7C1491.1,1378.7,1493.6,1378.7,1496.2,1378.7C1498.7,1378.7,1501.2,1378.7,1503.8,1378.7C1506.3,1378.7,1508.8,1378.7,1511.3,1378.7C1513.9,1378.7,1516.4,1378.7,1518.9,1378.7C1521.4,1378.7,1524,1378.7,1526.5,1378.7C1529,1378.7,1531.6,1378.7,1534.1,1378.7C1536.6,1378.7,1539.1,1378.7,1541.7,1378.7C1544.2,1378.7,1546.7,1378.7,1549.2,1378.7C1551.8,1378.7,1554.3,1378.7,1556.8,1378.7C1559.4,1378.7,1561.9,1378.7,1564.4,1378.7C1566.9,1378.7,1569.5,1378.7,1572,1378.7C1574.5,1378.7,1577.1,1332.7,1579.6,1332.7C1582.1,1332.7,1584.6,1378.7,1587.2,1378.7C1589.7,1378.7,1592.2,1378.7,1594.8,1378.7C1597.3,1378.7,1599.8,1378.7,1602.3,1378.7C1604.9,1378.7,1607.4,1378.7,1609.9,1378.7C1612.4,1378.7,1615,1378.7,1617.5,1378.7C1620,1378.7,1622.6,1378.7,1625.1,1378.7C1627.6,1378.7,1630.1,1378.7,1632.7,1378.7C1635.2,1378.7,1637.7,1378.7,1640.2,1378.7C1642.8,1378.7,1645.3,1378.7,1647.8,1378.7C1650.4,1378.7,1652.9,1378.7,1655.4,1378.7C1657.9,1378.7,1660.5,1378.7,1663,1378.7C1665.5,1378.7,1668.1,1378.7,1670.6,1378.7C1673.1,1378.7,1675.6,1378.7,1678.2,1378.7C1680.7,1378.7,1683.2,1378.7,1685.8,1378.7C1688.3,1378.7,1690.8,1378.7,1693.3,1378.7C1695.9,1378.7,1698.4,1378.7,1700.9,1378.7C1703.4,1378.7,1706,1378.7,1708.5,1378.7C1711,1378.7,1713.6,1378.7,1716.1,1378.7C1718.6,1378.7,1721.1,1378.7,1723.7,1378.7C1726.2,1378.7,1728.7,1378.7,1731.2,1378.7C1733.8,1378.7,1736.3,1378.7,1738.8,1378.7C1741.4,1378.7,1743.9,1378.7,1746.4,1378.7C1748.9,1378.7,1751.5,1356.2,1754,1333.7" fill="none" stroke="#d2c067" stroke-width="4" stroke-linejoin="round"/>
<path d="M662,1378.7C664.5,1378.7,667.1,1378.7,669.6,1378.7C672.1,1378.7,674.6,1378.7,677.2,1378.7C679.7,1378.7,682.2,1378.7,684.8,1378.7C687.3,1378.7,689.8,1378.7,692.3,1378.7C694.9,1378.7,697.4,1378.7,699.9,1378.7C702.4,1378.7,705,1378.7,707.5,1378.7C710,1378.7,712.6,1378.7,715.1,1378.7C717.6,1378.7,720.1,1378.7,722.7,1378.7C725.2,1378.7,727.7,1378.7,730.2,1378.7C732.8,1378.7,735.3,1378.7,737.8,1378.7C740.4,1378.7,742.9,1378.7,745.4,1378.7C747.9,1378.7,750.5,1378.7,753,1378.7C755.5,1378.7,758.1,1378.7,760.6,1378.7C763.1,1378.7,765.6,1378.7,768.2,1378.7C770.7,1378.7,773.2,1378.7,775.8,1378.7C778.3,1378.7,780.8,1374.7,783.3,1374.7C785.9,1374.7,788.4,1378.7,790.9,1378.7C793.4,1378.7,796,1378.7,798.5,1378.7C801,1378.7,803.6,1378.7,806.1,1378.7C808.6,1378.7,811.1,1333,813.7,1333C816.2,1333,818.7,1378.7,821.2,1378.7C823.8,1378.7,826.3,1378.7,828.8,1378.7C831.4,1378.7,833.9,1378.7,836.4,1378.7C838.9,1378.7,841.5,1373.7,844,1373.7C846.5,1373.7,849.1,1378.7,851.6,1378.7C854.1,1378.7,856.6,1337.7,859.2,1337.7C861.7,1337.7,864.2,1378.7,866.8,1378.7C869.3,1378.7,871.8,1378.7,874.3,1378.7C876.9,1378.7,879.4,1378.7,881.9,1378.7C884.4,1378.7,887,1176.5,889.5,1116.7C892,1056.9,894.6,1019.7,897.1,1019.7C899.6,1019.7,902.1,1378.7,904.7,1378.7C907.2,1378.7,909.7,1334.7,912.2,1334.7C914.8,1334.7,917.3,1378.7,919.8,1378.7C922.4,1378.7,924.9,1378.7,927.4,1378.7C929.9,1378.7,932.5,1333,935,1333C937.5,1333,940.1,1378.7,942.6,1378.7C945.1,1378.7,947.6,1378.7,950.2,1378.7C952.7,1378.7,955.2,1299.7,957.8,1299.7C960.3,1299.7,962.8,1378.7,965.3,1378.7C967.9,1378.7,970.4,1378.7,972.9,1378.7C975.4,1378.7,978,1378.7,980.5,1378.7C983,1378.7,985.6,1378.7,988.1,1378.7C990.6,1378.7,993.1,1378.7,995.7,1378.7C998.2,1378.7,1000.7,1021.2,1003.2,1021.2C1005.8,1021.2,1008.3,1378.7,1010.8,1378.7C1013.4,1378.7,1015.9,1378.7,1018.4,1378.7C1020.9,1378.7,1023.5,1330.7,1026,1330.7C1028.5,1330.7,1031.1,1331.4,1033.6,1332.7C1036.1,1334,1038.6,1378.7,1041.2,1378.7C1043.7,1378.7,1046.2,1378.7,1048.8,1378.7C1051.3,1378.7,1053.8,1378.7,1056.3,1378.7C1058.9,1378.7,1061.4,1378.7,1063.9,1378.7C1066.4,1378.7,1069,1378.7,1071.5,1378.7C1074,1378.7,1076.6,1327.7,1079.1,1327.7C1081.6,1327.7,1084.1,1378.7,1086.7,1378.7C1089.2,1378.7,1091.7,1021.2,1094.2,1021.2C1096.8,1021.2,1099.3,1378.7,1101.8,1378.7C1104.4,1378.7,1106.9,1378.7,1109.4,1378.7C1111.9,1378.7,1114.5,1300.7,1117,1300.7C1119.5,1300.7,1122.1,1378.7,1124.6,1378.7C1127.1,1378.7,1129.6,1010.7,1132.2,1010.7C1134.7,1010.7,1137.2,1016,1139.8,1026.7C1142.3,1037.4,1144.8,1378.7,1147.3,1378.7C1149.9,1378.7,1152.4,1378.7,1154.9,1378.7C1157.4,1378.7,1160,1378.7,1162.5,1378.7C1165,1378.7,1167.6,1378.7,1170.1,1378.7C1172.6,1378.7,1175.1,1378.7,1177.7,1378.7C1180.2,1378.7,1182.7,1378.7,1185.2,1378.7C1187.8,1378.7,1190.3,1378.7,1192.8,1378.7C1195.4,1378.7,1197.9,1378.7,1200.4,1378.7C1202.9,1378.7,1205.5,1378.7,1208,1378.7C1210.5,1378.7,1213.1,1378.7,1215.6,1378.7C1218.1,1378.7,1220.6,1378.7,1223.2,1378.7C1225.7,1378.7,1228.2,1016.2,1230.8,1016.2C1233.3,1016.2,1235.8,1378.7,1238.3,1378.7C1240.9,1378.7,1243.4,1378.7,1245.9,1378.7C1248.4,1378.7,1251,1378.7,1253.5,1378.7C1256,1378.7,1258.6,1342.3,1261.1,1342.3C1263.6,1342.3,1266.1,1378.7,1268.7,1378.7C1271.2,1378.7,1273.7,1378.7,1276.2,1378.7C1278.8,1378.7,1281.3,1378.7,1283.8,1378.7C1286.4,1378.7,1288.9,1378.7,1291.4,1378.7C1293.9,1378.7,1296.5,1378.7,1299,1378.7C1301.5,1378.7,1304.1,1378.7,1306.6,1378.7C1309.1,1378.7,1311.6,1378.7,1314.2,1378.7C1316.7,1378.7,1319.2,1013.7,1321.8,1013.7C1324.3,1013.7,1326.8,1378.7,1329.3,1378.7C1331.9,1378.7,1334.4,1378.7,1336.9,1378.7C1339.4,1378.7,1342,1340.3,1344.5,1340.3C1347,1340.3,1349.6,1378.7,1352.1,1378.7C1354.6,1378.7,1357.1,1378.7,1359.7,1378.7C1362.2,1378.7,1364.7,1378.7,1367.2,1378.7C1369.8,1378.7,1372.3,1378.7,1374.8,1378.7C1377.4,1378.7,1379.9,1378.7,1382.4,1378.7C1384.9,1378.7,1387.5,1374.1,1390,1374.1C1392.5,1374.1,1395.1,1378.7,1397.6,1378.7C1400.1,1378.7,1402.6,1331.9,1405.2,1331.9C1407.7,1331.9,1410.2,1378.7,1412.8,1378.7C1415.3,1378.7,1417.8,1378.7,1420.3,1378.7C1422.9,1378.7,1425.4,1378.7,1427.9,1378.7C1430.4,1378.7,1433,1378.7,1435.5,1378.7C1438,1378.7,1440.6,1378.7,1443.1,1378.7C1445.6,1378.7,1448.1,1378.7,1450.7,1378.7C1453.2,1378.7,1455.7,1378.7,1458.2,1378.7C1460.8,1378.7,1463.3,1378.7,1465.8,1378.7C1468.4,1378.7,1470.9,1336.9,1473.4,1336.9C1475.9,1336.9,1478.5,1378.7,1481,1378.7C1483.5,1378.7,1486.1,1378.7,1488.6,1378.7C1491.1,1378.7,1493.6,1378.7,1496.2,1378.7C1498.7,1378.7,1501.2,1378.7,1503.8,1378.7C1506.3,1378.7,1508.8,1378.7,1511.3,1378.7C1513.9,1378.7,1516.4,1378.7,1518.9,1378.7C1521.4,1378.7,1524,1378.7,1526.5,1378.7C1529,1378.7,1531.6,1378.7,1534.1,1378.7C1536.6,1378.7,1539.1,1019.3,1541.7,1019.3C1544.2,1019.3,1546.7,1378.7,1549.2,1378.7C1551.8,1378.7,1554.3,1378.7,1556.8,1378.7C1559.4,1378.7,1561.9,1368.7,1564.4,1348.7C1566.9,1328.7,1569.5,1019.3,1572,1019.3C1574.5,1019.3,1577.1,1378.7,1579.6,1378.7C1582.1,1378.7,1584.6,1378.7,1587.2,1378.7C1589.7,1378.7,1592.2,1019.3,1594.8,1019.3C1597.3,1019.3,1599.8,1378.7,1602.3,1378.7C1604.9,1378.7,1607.4,1378.7,1609.9,1378.7C1612.4,1378.7,1615,1378.7,1617.5,1378.7C1620,1378.7,1622.6,1330.7,1625.1,1330.7C1627.6,1330.7,1630.1,1378.7,1632.7,1378.7C1635.2,1378.7,1637.7,1016.2,1640.2,1016.2C1642.8,1016.2,1645.3,1378.7,1647.8,1378.7C1650.4,1378.7,1652.9,1378.7,1655.4,1378.7C1657.9,1378.7,1660.5,1378.7,1663,1378.7C1665.5,1378.7,1668.1,1331.1,1670.6,1331.1C1673.1,1331.1,1675.6,1331.1,1678.2,1331.1C1680.7,1331.1,1683.2,1378.7,1685.8,1378.7C1688.3,1378.7,1690.8,1378.7,1693.3,1378.7C1695.9,1378.7,1698.4,1378.7,1700.9,1378.7C1703.4,1378.7,1706,1378.7,1708.5,1378.7C1711,1378.7,1713.6,1378.7,1716.1,1378.7C1718.6,1378.7,1721.1,1021.2,1723.7,1021.2C1726.2,1021.2,1728.7,1378.7,1731.2,1378.7C1733.8,1378.7,1736.3,1378.7,1738.8,1378.7C1741.4,1378.7,1743.9,1378.7,1746.4,1378.7C1748.9,1378.7,1751.5,1378.7,1754,1378.7" fill="none" stroke="#cf8f52" stroke-width="4" stroke-linejoin="round"/>
<path d="M662,1378.7C664.5,1378.7,667.1,1378.7,669.6,1378.7C672.1,1378.7,674.6,1378.7,677.2,1378.7C679.7,1378.7,682.2,1378.7,684.8,1378.7C687.3,1378.7,689.8,1378.7,692.3,1378.7C694.9,1378.7,697.4,1378.7,699.9,1378.7C702.4,1378.7,705,1378.7,707.5,1378.7C710,1378.7,712.6,1378.7,715.1,1378.7C717.6,1378.7,720.1,1378.7,722.7,1378.7C725.2,1378.7,727.7,1378.7,730.2,1378.7C732.8,1378.7,735.3,1378.7,737.8,1378.7C740.4,1378.7,742.9,1378.7,745.4,1378.7C747.9,1378.7,750.5,1378.7,753,1378.7C755.5,1378.7,758.1,1378.7,760.6,1378.7C763.1,1378.7,765.6,1378.7,768.2,1378.7C770.7,1378.7,773.2,1378.7,775.8,1378.7C778.3,1378.7,780.8,1378.7,783.3,1378.7C785.9,1378.7,788.4,1378.7,790.9,1378.7C793.4,1378.7,796,1378.7,798.5,1378.7C801,1378.7,803.6,1378.7,806.1,1378.7C808.6,1378.7,811.1,1376.7,813.7,1376.7C816.2,1376.7,818.7,1378.7,821.2,1378.7C823.8,1378.7,826.3,1378.7,828.8,1378.7C831.4,1378.7,833.9,1378.7,836.4,1378.7C838.9,1378.7,841.5,1378.7,844,1378.7C846.5,1378.7,849.1,1378.7,851.6,1378.7C854.1,1378.7,856.6,1378.7,859.2,1378.7C861.7,1378.7,864.2,1378.7,866.8,1378.7C869.3,1378.7,871.8,1378.7,874.3,1378.7C876.9,1378.7,879.4,1378.7,881.9,1378.7C884.4,1378.7,887,1359.4,889.5,1359.4C892,1359.4,894.6,1365.8,897.1,1369C899.6,1372.2,902.1,1378.7,904.7,1378.7C907.2,1378.7,909.7,1375.7,912.2,1375.7C914.8,1375.7,917.3,1378.7,919.8,1378.7C922.4,1378.7,924.9,1378.7,927.4,1378.7C929.9,1378.7,932.5,1376.7,935,1376.7C937.5,1376.7,940.1,1378.7,942.6,1378.7C945.1,1378.7,947.6,1378.7,950.2,1378.7C952.7,1378.7,955.2,1375.7,957.8,1375.7C960.3,1375.7,962.8,1378.7,965.3,1378.7C967.9,1378.7,970.4,1378.7,972.9,1378.7C975.4,1378.7,978,1374.3,980.5,1374.3C983,1374.3,985.6,1378.7,988.1,1378.7C990.6,1378.7,993.1,1378.7,995.7,1378.7C998.2,1378.7,1000.7,1355.8,1003.2,1355.8C1005.8,1355.8,1008.3,1378.7,1010.8,1378.7C1013.4,1378.7,1015.9,1378.7,1018.4,1378.7C1020.9,1378.7,1023.5,1376.7,1026,1376.7C1028.5,1376.7,1031.1,1378.7,1033.6,1378.7C1036.1,1378.7,1038.6,1378.7,1041.2,1378.7C1043.7,1378.7,1046.2,1378.7,1048.8,1378.7C1051.3,1378.7,1053.8,1378.7,1056.3,1378.7C1058.9,1378.7,1061.4,1378.7,1063.9,1378.7C1066.4,1378.7,1069,1378.7,1071.5,1378.7C1074,1378.7,1076.6,1375.7,1079.1,1375.7C1081.6,1375.7,1084.1,1378.7,1086.7,1378.7C1089.2,1378.7,1091.7,1366.7,1094.2,1366.7C1096.8,1366.7,1099.3,1378.7,1101.8,1378.7C1104.4,1378.7,1106.9,1378.7,1109.4,1378.7C1111.9,1378.7,1114.5,1374.7,1117,1374.7C1119.5,1374.7,1122.1,1378.7,1124.6,1378.7C1127.1,1378.7,1129.6,1361.7,1132.2,1361.7C1134.7,1361.7,1137.2,1361.7,1139.8,1361.7C1142.3,1361.7,1144.8,1378.7,1147.3,1378.7C1149.9,1378.7,1152.4,1378.7,1154.9,1378.7C1157.4,1378.7,1160,1371,1162.5,1371C1165,1371,1167.6,1378.7,1170.1,1378.7C1172.6,1378.7,1175.1,1378.7,1177.7,1378.7C1180.2,1378.7,1182.7,1378.7,1185.2,1378.7C1187.8,1378.7,1190.3,1378.7,1192.8,1378.7C1195.4,1378.7,1197.9,1378.7,1200.4,1378.7C1202.9,1378.7,1205.5,1378.7,1208,1378.7C1210.5,1378.7,1213.1,1378.7,1215.6,1378.7C1218.1,1378.7,1220.6,1378.7,1223.2,1378.7C1225.7,1378.7,1228.2,1361.8,1230.8,1361.8C1233.3,1361.8,1235.8,1378.7,1238.3,1378.7C1240.9,1378.7,1243.4,1378.7,1245.9,1378.7C1248.4,1378.7,1251,1378.7,1253.5,1378.7C1256,1378.7,1258.6,1376.7,1261.1,1376.7C1263.6,1376.7,1266.1,1378.7,1268.7,1378.7C1271.2,1378.7,1273.7,1378.7,1276.2,1378.7C1278.8,1378.7,1281.3,1378.7,1283.8,1378.7C1286.4,1378.7,1288.9,1378.7,1291.4,1378.7C1293.9,1378.7,1296.5,1378.7,1299,1378.7C1301.5,1378.7,1304.1,1378.7,1306.6,1378.7C1309.1,1378.7,1311.6,1378.7,1314.2,1378.7C1316.7,1378.7,1319.2,1359.7,1321.8,1359.7C1324.3,1359.7,1326.8,1378.7,1329.3,1378.7C1331.9,1378.7,1334.4,1378.7,1336.9,1378.7C1339.4,1378.7,1342,1376.7,1344.5,1376.7C1347,1376.7,1349.6,1378.7,1352.1,1378.7C1354.6,1378.7,1357.1,1378.7,1359.7,1378.7C1362.2,1378.7,1364.7,1378.7,1367.2,1378.7C1369.8,1378.7,1372.3,1378.7,1374.8,1378.7C1377.4,1378.7,1379.9,1378.7,1382.4,1378.7C1384.9,1378.7,1387.5,1378.7,1390,1378.7C1392.5,1378.7,1395.1,1378.7,1397.6,1378.7C1400.1,1378.7,1402.6,1376.7,1405.2,1376.7C1407.7,1376.7,1410.2,1378.7,1412.8,1378.7C1415.3,1378.7,1417.8,1378.7,1420.3,1378.7C1422.9,1378.7,1425.4,1378.7,1427.9,1378.7C1430.4,1378.7,1433,1378.7,1435.5,1378.7C1438,1378.7,1440.6,1378.7,1443.1,1378.7C1445.6,1378.7,1448.1,1378.7,1450.7,1378.7C1453.2,1378.7,1455.7,1378.7,1458.2,1378.7C1460.8,1378.7,1463.3,1378.7,1465.8,1378.7C1468.4,1378.7,1470.9,1375.7,1473.4,1375.7C1475.9,1375.7,1478.5,1378.7,1481,1378.7C1483.5,1378.7,1486.1,1378.7,1488.6,1378.7C1491.1,1378.7,1493.6,1378.7,1496.2,1378.7C1498.7,1378.7,1501.2,1378.7,1503.8,1378.7C1506.3,1378.7,1508.8,1378.7,1511.3,1378.7C1513.9,1378.7,1516.4,1378.7,1518.9,1378.7C1521.4,1378.7,1524,1378.7,1526.5,1378.7C1529,1378.7,1531.6,1378.7,1534.1,1378.7C1536.6,1378.7,1539.1,1362.7,1541.7,1362.7C1544.2,1362.7,1546.7,1378.7,1549.2,1378.7C1551.8,1378.7,1554.3,1378.7,1556.8,1378.7C1559.4,1378.7,1561.9,1378.7,1564.4,1378.7C1566.9,1378.7,1569.5,1364.7,1572,1364.7C1574.5,1364.7,1577.1,1370.4,1579.6,1372.7C1582.1,1375,1584.6,1378.7,1587.2,1378.7C1589.7,1378.7,1592.2,1365.3,1594.8,1365.3C1597.3,1365.3,1599.8,1378.7,1602.3,1378.7C1604.9,1378.7,1607.4,1378.7,1609.9,1378.7C1612.4,1378.7,1615,1378.7,1617.5,1378.7C1620,1378.7,1622.6,1376.7,1625.1,1376.7C1627.6,1376.7,1630.1,1378.7,1632.7,1378.7C1635.2,1378.7,1637.7,1362.7,1640.2,1362.7C1642.8,1362.7,1645.3,1378.7,1647.8,1378.7C1650.4,1378.7,1652.9,1378.7,1655.4,1378.7C1657.9,1378.7,1660.5,1378.7,1663,1378.7C1665.5,1378.7,1668.1,1375.7,1670.6,1375.7C1673.1,1375.7,1675.6,1375.7,1678.2,1375.7C1680.7,1375.7,1683.2,1378.7,1685.8,1378.7C1688.3,1378.7,1690.8,1378.7,1693.3,1378.7C1695.9,1378.7,1698.4,1378.7,1700.9,1378.7C1703.4,1378.7,1706,1378.7,1708.5,1378.7C1711,1378.7,1713.6,1378.7,1716.1,1378.7C1718.6,1378.7,1721.1,1365.3,1723.7,1365.3C1726.2,1365.3,1728.7,1378.7,1731.2,1378.7C1733.8,1378.7,1736.3,1378.7,1738.8,1378.7C1741.4,1378.7,1743.9,1378.7,1746.4,1378.7C1748.9,1378.7,1751.5,1376.7,1754,1374.7" fill="none" stroke="#6b91bc" stroke-width="4" stroke-linejoin="round"/>
</g>
<line x1="1027.2" x2="1027.2" y1="963.0" y2="1378.0" stroke="#367b73" stroke-width="2"/>
<circle cx="1025.9" cy="945" r="8" fill="#367b73"/></g>
<g id="chart-rpm"><line x1="1996.0" x2="3088.0" y1="963" y2="963" stroke="#e4e5e8" stroke-width="2"/>
<line x1="1996.0" x2="3088.0" y1="1170.5" y2="1170.5" stroke="#e4e5e8" stroke-width="2"/>
<line x1="1996.0" x2="3088.0" y1="1378" y2="1378" stroke="#e4e5e8" stroke-width="2"/>
<line x1="1996.0" x2="3088.0" y1="1379" y2="1379" stroke="#e3e4e8" stroke-width="4"/>
<g clip-path="url(#c3)">
<path d="M1996,1378.8C1998.5,1367.6,2001.1,1356.4,2003.6,1356.4C2006.1,1356.4,2008.6,1367.3,2011.2,1367.3C2013.7,1367.3,2016.2,1367.3,2018.8,1367.3C2021.3,1367.3,2023.8,1356.4,2026.3,1356.4C2028.9,1356.4,2031.4,1356.4,2033.9,1356.4C2036.4,1356.4,2039,1344,2041.5,1344C2044,1344,2046.6,1344,2049.1,1344C2051.6,1344,2054.1,1344,2056.7,1344C2059.2,1344,2061.7,1308.3,2064.2,1308.3C2066.8,1308.3,2069.3,1321.5,2071.8,1331.5C2074.4,1341.6,2076.9,1368.3,2079.4,1368.3C2081.9,1368.3,2084.5,1331.5,2087,1331.5C2089.5,1331.5,2092.1,1331.5,2094.6,1331.5C2097.1,1331.5,2099.6,1368.3,2102.2,1368.3C2104.7,1368.3,2107.2,1356.4,2109.8,1356.4C2112.3,1356.4,2114.8,1356.4,2117.3,1356.4C2119.9,1356.4,2122.4,1356.4,2124.9,1356.4C2127.4,1356.4,2130,1356.4,2132.5,1356.4C2135,1356.4,2137.6,1334.7,2140.1,1334.7C2142.6,1334.7,2145.1,1367.3,2147.7,1367.3C2150.2,1367.3,2152.7,1367.3,2155.2,1367.3C2157.8,1367.3,2160.3,1323.8,2162.8,1323.8C2165.4,1323.8,2167.9,1347.2,2170.4,1356.4C2172.9,1365.6,2175.5,1378.8,2178,1378.8C2180.5,1378.8,2183.1,1362.2,2185.6,1356.4C2188.1,1350.6,2190.6,1352.2,2193.2,1344C2195.7,1335.7,2198.2,1295.8,2200.8,1295.8C2203.3,1295.8,2205.8,1348.4,2208.3,1356.4C2210.9,1364.4,2213.4,1368.3,2215.9,1368.3C2218.4,1368.3,2221,1339.3,2223.5,1331.5C2226,1323.8,2228.6,1319.9,2231.1,1319.9C2233.6,1319.9,2236.1,1356.4,2238.7,1356.4C2241.2,1356.4,2243.7,1356.4,2246.2,1356.4C2248.8,1356.4,2251.3,1319.9,2253.8,1319.9C2256.4,1319.9,2258.9,1319.9,2261.4,1319.9C2263.9,1319.9,2266.5,1319.9,2269,1319.9C2271.5,1319.9,2274.1,1344,2276.6,1344C2279.1,1344,2281.6,1319.9,2284.2,1319.9C2286.7,1319.9,2289.2,1323.8,2291.8,1331.5C2294.3,1339.3,2296.8,1368.3,2299.3,1368.3C2301.9,1368.3,2304.4,1352,2306.9,1344C2309.4,1335.9,2312,1319.9,2314.5,1319.9C2317,1319.9,2319.6,1378.8,2322.1,1378.8C2324.6,1378.8,2327.1,1344,2329.7,1344C2332.2,1344,2334.7,1344,2337.2,1344C2339.8,1344,2342.3,1368.3,2344.8,1368.3C2347.4,1368.3,2349.9,1362.5,2352.4,1356.4C2354.9,1350.3,2357.5,1331.5,2360,1331.5C2362.5,1331.5,2365.1,1368.3,2367.6,1368.3C2370.1,1368.3,2372.6,1344,2375.2,1344C2377.7,1344,2380.2,1367.3,2382.8,1367.3C2385.3,1367.3,2387.8,1367.3,2390.3,1367.3C2392.9,1367.3,2395.4,1367.3,2397.9,1367.3C2400.4,1367.3,2403,1351.9,2405.5,1344C2408,1336.1,2410.6,1319.9,2413.1,1319.9C2415.6,1319.9,2418.1,1331.5,2420.7,1331.5C2423.2,1331.5,2425.7,1319.9,2428.2,1319.9C2430.8,1319.9,2433.3,1323.8,2435.8,1331.5C2438.4,1339.3,2440.9,1378.8,2443.4,1378.8C2445.9,1378.8,2448.5,1370.4,2451,1370.4C2453.5,1370.4,2456.1,1378.8,2458.6,1378.8C2461.1,1378.8,2463.6,1319.9,2466.2,1319.9C2468.7,1319.9,2471.2,1335.9,2473.8,1344C2476.3,1352,2478.8,1368.3,2481.3,1368.3C2483.9,1368.3,2486.4,1360.5,2488.9,1356.4C2491.4,1352.3,2494,1348.1,2496.5,1344C2499,1339.8,2501.6,1331.5,2504.1,1331.5C2506.6,1331.5,2509.1,1350.3,2511.7,1356.4C2514.2,1362.5,2516.7,1364.6,2519.2,1368.3C2521.8,1372.1,2524.3,1378.8,2526.8,1378.8C2529.4,1378.8,2531.9,1375.3,2534.4,1368.3C2536.9,1361.4,2539.5,1308.3,2542,1308.3C2544.5,1308.3,2547.1,1344,2549.6,1344C2552.1,1344,2554.6,1319.9,2557.2,1319.9C2559.7,1319.9,2562.2,1327.5,2564.8,1331.5C2567.3,1335.6,2569.8,1336.1,2572.3,1344C2574.9,1351.8,2577.4,1378.8,2579.9,1378.8C2582.4,1378.8,2585,1375.3,2587.5,1368.3C2590,1361.4,2592.6,1331.5,2595.1,1331.5C2597.6,1331.5,2600.1,1344,2602.7,1344C2605.2,1344,2607.7,1331.5,2610.2,1331.5C2612.8,1331.5,2615.3,1339.8,2617.8,1344C2620.4,1348.1,2622.9,1352.3,2625.4,1356.4C2627.9,1360.5,2630.5,1368.3,2633,1368.3C2635.5,1368.3,2638.1,1331.5,2640.6,1331.5C2643.1,1331.5,2645.6,1368.3,2648.2,1368.3C2650.7,1368.3,2653.2,1344,2655.8,1344C2658.3,1344,2660.8,1368.3,2663.3,1368.3C2665.9,1368.3,2668.4,1356.4,2670.9,1356.4C2673.4,1356.4,2676,1356.4,2678.5,1356.4C2681,1356.4,2683.6,1368.3,2686.1,1368.3C2688.6,1368.3,2691.1,1364.4,2693.7,1356.4C2696.2,1348.4,2698.7,1319.9,2701.2,1319.9C2703.8,1319.9,2706.3,1368.3,2708.8,1368.3C2711.4,1368.3,2713.9,1368.3,2716.4,1368.3C2718.9,1368.3,2721.5,1331.5,2724,1331.5C2726.5,1331.5,2729.1,1356.4,2731.6,1356.4C2734.1,1356.4,2736.6,1344,2739.2,1344C2741.7,1344,2744.2,1378.8,2746.8,1378.8C2749.3,1378.8,2751.8,1319.9,2754.3,1319.9C2756.9,1319.9,2759.4,1325.5,2761.9,1331.5C2764.4,1337.6,2767,1350.3,2769.5,1356.4C2772,1362.5,2774.6,1368.3,2777.1,1368.3C2779.6,1368.3,2782.1,1319.9,2784.7,1319.9C2787.2,1319.9,2789.7,1319.9,2792.2,1319.9C2794.8,1319.9,2797.3,1368.3,2799.8,1368.3C2802.4,1368.3,2804.9,1364.4,2807.4,1356.4C2809.9,1348.4,2812.5,1307.5,2815,1307.5C2817.5,1307.5,2820.1,1356.4,2822.6,1356.4C2825.1,1356.4,2827.6,1344,2830.2,1344C2832.7,1344,2835.2,1344,2837.8,1344C2840.3,1344,2842.8,1378.8,2845.3,1378.8C2847.9,1378.8,2850.4,1295.8,2852.9,1295.8C2855.4,1295.8,2858,1344,2860.5,1344C2863,1344,2865.6,1331.5,2868.1,1331.5C2870.6,1331.5,2873.1,1331.5,2875.7,1331.5C2878.2,1331.5,2880.7,1378.8,2883.2,1378.8C2885.8,1378.8,2888.3,1331.5,2890.8,1331.5C2893.4,1331.5,2895.9,1368.3,2898.4,1368.3C2900.9,1368.3,2903.5,1360.5,2906,1356.4C2908.5,1352.3,2911.1,1344,2913.6,1344C2916.1,1344,2918.6,1344,2921.2,1344C2923.7,1344,2926.2,1295.8,2928.8,1295.8C2931.3,1295.8,2933.8,1356.4,2936.3,1356.4C2938.9,1356.4,2941.4,1356.4,2943.9,1356.4C2946.4,1356.4,2949,1368.3,2951.5,1368.3C2954,1368.3,2956.6,1295.8,2959.1,1295.8C2961.6,1295.8,2964.1,1368.3,2966.7,1368.3C2969.2,1368.3,2971.7,1344,2974.2,1344C2976.8,1344,2979.3,1344,2981.8,1344C2984.4,1344,2986.9,1319.9,2989.4,1319.9C2991.9,1319.9,2994.5,1327.5,2997,1331.5C2999.5,1335.6,3002.1,1344,3004.6,1344C3007.1,1344,3009.6,1344,3012.2,1344C3014.7,1344,3017.2,1344,3019.8,1344C3022.3,1344,3024.8,1352.3,3027.3,1356.4C3029.9,1360.5,3032.4,1368.3,3034.9,1368.3C3037.4,1368.3,3040,1344,3042.5,1344C3045,1344,3047.6,1356.4,3050.1,1356.4C3052.6,1356.4,3055.1,1295.8,3057.7,1295.8C3060.2,1295.8,3062.7,1331.9,3065.2,1344C3067.8,1356.1,3070.3,1368.3,3072.8,1368.3C3075.4,1368.3,3077.9,1344,3080.4,1344C3082.9,1344,3085.5,1356.2,3088,1368.3" fill="none" stroke="#b64430" stroke-width="4" stroke-linejoin="round"/>
<path d="M1996,1378.8C1998.5,1369.4,2001.1,1360,2003.6,1350.2C2006.1,1340.4,2008.6,1319.9,2011.2,1319.9C2013.7,1319.9,2016.2,1331.5,2018.8,1331.5C2021.3,1331.5,2023.8,1331.5,2026.3,1331.5C2028.9,1331.5,2031.4,1378.8,2033.9,1378.8C2036.4,1378.8,2039,1378.8,2041.5,1378.8C2044,1378.8,2046.6,1356.4,2049.1,1356.4C2051.6,1356.4,2054.1,1364.6,2056.7,1368.3C2059.2,1372.1,2061.7,1378.8,2064.2,1378.8C2066.8,1378.8,2069.3,1356.4,2071.8,1356.4C2074.4,1356.4,2076.9,1378.8,2079.4,1378.8C2081.9,1378.8,2084.5,1371.3,2087,1356.4C2089.5,1341.5,2092.1,1284.2,2094.6,1284.2C2097.1,1284.2,2099.6,1331.5,2102.2,1331.5C2104.7,1331.5,2107.2,1295.8,2109.8,1295.8C2112.3,1295.8,2114.8,1311.9,2117.3,1319.9C2119.9,1327.9,2122.4,1344,2124.9,1344C2127.4,1344,2130,1331.5,2132.5,1331.5C2135,1331.5,2137.6,1331.5,2140.1,1331.5C2142.6,1331.5,2145.1,1331.5,2147.7,1331.5C2150.2,1331.5,2152.7,1331.5,2155.2,1331.5C2157.8,1331.5,2160.3,1325.9,2162.8,1319.9C2165.4,1313.9,2167.9,1295.8,2170.4,1295.8C2172.9,1295.8,2175.5,1344,2178,1344C2180.5,1344,2183.1,1344,2185.6,1344C2188.1,1344,2190.6,1319.9,2193.2,1319.9C2195.7,1319.9,2198.2,1378.8,2200.8,1378.8C2203.3,1378.8,2205.8,1319.9,2208.3,1319.9C2210.9,1319.9,2213.4,1368.3,2215.9,1368.3C2218.4,1368.3,2221,1356.4,2223.5,1356.4C2226,1356.4,2228.6,1356.4,2231.1,1356.4C2233.6,1356.4,2236.1,1352.2,2238.7,1344C2241.2,1335.7,2243.7,1305.1,2246.2,1305.1C2248.8,1305.1,2251.3,1356.4,2253.8,1356.4C2256.4,1356.4,2258.9,1319.9,2261.4,1319.9C2263.9,1319.9,2266.5,1344,2269,1344C2271.5,1344,2274.1,1344,2276.6,1344C2279.1,1344,2281.6,1368.3,2284.2,1368.3C2286.7,1368.3,2289.2,1344,2291.8,1344C2294.3,1344,2296.8,1378.8,2299.3,1378.8C2301.9,1378.8,2304.4,1372.1,2306.9,1368.3C2309.4,1364.6,2312,1356.4,2314.5,1356.4C2317,1356.4,2319.6,1356.4,2322.1,1356.4C2324.6,1356.4,2327.1,1368.3,2329.7,1368.3C2332.2,1368.3,2334.7,1319.9,2337.2,1319.9C2339.8,1319.9,2342.3,1335.9,2344.8,1344C2347.4,1352,2349.9,1368.3,2352.4,1368.3C2354.9,1368.3,2357.5,1356.4,2360,1356.4C2362.5,1356.4,2365.1,1356.4,2367.6,1356.4C2370.1,1356.4,2372.6,1337.6,2375.2,1331.5C2377.7,1325.5,2380.2,1319.9,2382.8,1319.9C2385.3,1319.9,2387.8,1356.4,2390.3,1356.4C2392.9,1356.4,2395.4,1356.4,2397.9,1356.4C2400.4,1356.4,2403,1331.5,2405.5,1331.5C2408,1331.5,2410.6,1344,2413.1,1344C2415.6,1344,2418.1,1331.5,2420.7,1331.5C2423.2,1331.5,2425.7,1331.5,2428.2,1331.5C2430.8,1331.5,2433.3,1331.5,2435.8,1331.5C2438.4,1331.5,2440.9,1307.5,2443.4,1307.5C2445.9,1307.5,2448.5,1378.8,2451,1378.8C2453.5,1378.8,2456.1,1319.9,2458.6,1319.9C2461.1,1319.9,2463.6,1368.3,2466.2,1368.3C2468.7,1368.3,2471.2,1319.9,2473.8,1319.9C2476.3,1319.9,2478.8,1319.9,2481.3,1319.9C2483.9,1319.9,2486.4,1378.8,2488.9,1378.8C2491.4,1378.8,2494,1378.8,2496.5,1378.8C2499,1378.8,2501.6,1344,2504.1,1344C2506.6,1344,2509.1,1368.3,2511.7,1368.3C2514.2,1368.3,2516.7,1307.5,2519.2,1307.5C2521.8,1307.5,2524.3,1356.4,2526.8,1356.4C2529.4,1356.4,2531.9,1348.1,2534.4,1344C2536.9,1339.8,2539.5,1331.5,2542,1331.5C2544.5,1331.5,2547.1,1368.3,2549.6,1368.3C2552.1,1368.3,2554.6,1368.3,2557.2,1368.3C2559.7,1368.3,2562.2,1331.5,2564.8,1331.5C2567.3,1331.5,2569.8,1356.4,2572.3,1356.4C2574.9,1356.4,2577.4,1331.5,2579.9,1331.5C2582.4,1331.5,2585,1331.5,2587.5,1331.5C2590,1331.5,2592.6,1368.3,2595.1,1368.3C2597.6,1368.3,2600.1,1341.7,2602.7,1331.5C2605.2,1321.4,2607.7,1307.5,2610.2,1307.5C2612.8,1307.5,2615.3,1335.8,2617.8,1344C2620.4,1352.1,2622.9,1356.4,2625.4,1356.4C2627.9,1356.4,2630.5,1319.9,2633,1319.9C2635.5,1319.9,2638.1,1368.3,2640.6,1368.3C2643.1,1368.3,2645.6,1331.5,2648.2,1331.5C2650.7,1331.5,2653.2,1378.8,2655.8,1378.8C2658.3,1378.8,2660.8,1372.1,2663.3,1368.3C2665.9,1364.6,2668.4,1356.4,2670.9,1356.4C2673.4,1356.4,2676,1356.4,2678.5,1356.4C2681,1356.4,2683.6,1284.2,2686.1,1284.2C2688.6,1284.2,2691.1,1291.9,2693.7,1295.8C2696.2,1299.7,2698.7,1299.7,2701.2,1307.5C2703.8,1315.2,2706.3,1332.1,2708.8,1344C2711.4,1355.8,2713.9,1378.8,2716.4,1378.8C2718.9,1378.8,2721.5,1307.5,2724,1307.5C2726.5,1307.5,2729.1,1356.4,2731.6,1356.4C2734.1,1356.4,2736.6,1331.5,2739.2,1331.5C2741.7,1331.5,2744.2,1350.3,2746.8,1356.4C2749.3,1362.5,2751.8,1368.3,2754.3,1368.3C2756.9,1368.3,2759.4,1341.7,2761.9,1331.5C2764.4,1321.4,2767,1307.5,2769.5,1307.5C2772,1307.5,2774.6,1368.3,2777.1,1368.3C2779.6,1368.3,2782.1,1368.3,2784.7,1368.3C2787.2,1368.3,2789.7,1368.3,2792.2,1368.3C2794.8,1368.3,2797.3,1360.2,2799.8,1344C2802.4,1327.7,2804.9,1260.1,2807.4,1260.1C2809.9,1260.1,2812.5,1341.5,2815,1356.4C2817.5,1371.3,2820.1,1378.8,2822.6,1378.8C2825.1,1378.8,2827.6,1331.5,2830.2,1331.5C2832.7,1331.5,2835.2,1337.8,2837.8,1344C2840.3,1350.1,2842.8,1368.3,2845.3,1368.3C2847.9,1368.3,2850.4,1343.6,2852.9,1331.5C2855.4,1319.5,2858,1295.8,2860.5,1295.8C2863,1295.8,2865.6,1356.4,2868.1,1356.4C2870.6,1356.4,2873.1,1344,2875.7,1344C2878.2,1344,2880.7,1344,2883.2,1344C2885.8,1344,2888.3,1344,2890.8,1344C2893.4,1344,2895.9,1356.4,2898.4,1356.4C2900.9,1356.4,2903.5,1331.5,2906,1331.5C2908.5,1331.5,2911.1,1368.3,2913.6,1368.3C2916.1,1368.3,2918.6,1307.5,2921.2,1307.5C2923.7,1307.5,2926.2,1356.4,2928.8,1356.4C2931.3,1356.4,2933.8,1356.4,2936.3,1356.4C2938.9,1356.4,2941.4,1331.5,2943.9,1331.5C2946.4,1331.5,2949,1356.4,2951.5,1356.4C2954,1356.4,2956.6,1356.4,2959.1,1356.4C2961.6,1356.4,2964.1,1344,2966.7,1344C2969.2,1344,2971.7,1356.4,2974.2,1356.4C2976.8,1356.4,2979.3,1356.4,2981.8,1356.4C2984.4,1356.4,2986.9,1260.1,2989.4,1260.1C2991.9,1260.1,2994.5,1356.4,2997,1356.4C2999.5,1356.4,3002.1,1319.9,3004.6,1319.9C3007.1,1319.9,3009.6,1335.9,3012.2,1344C3014.7,1352,3017.2,1368.3,3019.8,1368.3C3022.3,1368.3,3024.8,1368.3,3027.3,1368.3C3029.9,1368.3,3032.4,1378.8,3034.9,1378.8C3037.4,1378.8,3040,1351.8,3042.5,1344C3045,1336.1,3047.6,1331.5,3050.1,1331.5C3052.6,1331.5,3055.1,1339.8,3057.7,1344C3060.2,1348.1,3062.7,1352.3,3065.2,1356.4C3067.8,1360.5,3070.3,1368.3,3072.8,1368.3C3075.4,1368.3,3077.9,1331.5,3080.4,1331.5C3082.9,1331.5,3085.5,1349.9,3088,1368.3" fill="none" stroke="#eaaa3b" stroke-width="4" stroke-linejoin="round"/>
<path d="M1996,1271.9C1998.5,1226.5,2001.1,1181.1,2003.6,1151.4C2006.1,1121.8,2008.6,1093.9,2011.2,1093.9C2013.7,1093.9,2016.2,1102.3,2018.8,1119.1C2021.3,1135.9,2023.8,1213.5,2026.3,1245C2028.9,1276.4,2031.4,1307.9,2033.9,1307.9C2036.4,1307.9,2039,1239.9,2041.5,1219.8C2044,1199.7,2046.6,1200.6,2049.1,1187.4C2051.6,1174.2,2054.1,1140.6,2056.7,1140.6C2059.2,1140.6,2061.7,1140.6,2064.2,1140.6C2066.8,1140.6,2069.3,1284.5,2071.8,1284.5C2074.4,1284.5,2076.9,1128.8,2079.4,1128.8C2081.9,1128.8,2084.5,1177.3,2087,1177.3C2089.5,1177.3,2092.1,1069.8,2094.6,1069.8C2097.1,1069.8,2099.6,1177.3,2102.2,1177.3C2104.7,1177.3,2107.2,1141.1,2109.8,1119.1C2112.3,1097.1,2114.8,1045.3,2117.3,1045.3C2119.9,1045.3,2122.4,1189.2,2124.9,1189.2C2127.4,1189.2,2130,1140.6,2132.5,1140.6C2135,1140.6,2137.6,1259.4,2140.1,1259.4C2142.6,1259.4,2145.1,1205.4,2147.7,1198.2C2150.2,1191,2152.7,1194.6,2155.2,1187.4C2157.8,1180.2,2160.3,1110,2162.8,1093.9C2165.4,1077.8,2167.9,1069.8,2170.4,1069.8C2172.9,1069.8,2175.5,1153.2,2178,1153.2C2180.5,1153.2,2183.1,1057.2,2185.6,1057.2C2188.1,1057.2,2190.6,1067,2193.2,1086.7C2195.7,1106.4,2198.2,1224.1,2200.8,1224.1C2203.3,1224.1,2205.8,1188.1,2208.3,1188.1C2210.9,1188.1,2213.4,1295.3,2215.9,1295.3C2218.4,1295.3,2221,1295.3,2223.5,1295.3C2226,1295.3,2228.6,1069.8,2231.1,1069.8C2233.6,1069.8,2236.1,1097.1,2238.7,1140.6C2241.2,1184.2,2243.7,1331.3,2246.2,1331.3C2248.8,1331.3,2251.3,1105.4,2253.8,1105.4C2256.4,1105.4,2258.9,1188.1,2261.4,1188.1C2263.9,1188.1,2266.5,1140.6,2269,1140.6C2271.5,1140.6,2274.1,1189.2,2276.6,1189.2C2279.1,1189.2,2281.6,1158.6,2284.2,1151.4C2286.7,1144.2,2289.2,1140.6,2291.8,1140.6C2294.3,1140.6,2296.8,1271.9,2299.3,1271.9C2301.9,1271.9,2304.4,1225.7,2306.9,1201.8C2309.4,1177.9,2312,1128.8,2314.5,1128.8C2317,1128.8,2319.6,1176.6,2322.1,1176.6C2324.6,1176.6,2327.1,1176.6,2329.7,1176.6C2332.2,1176.6,2334.7,1248.6,2337.2,1248.6C2339.8,1248.6,2342.3,1105.4,2344.8,1105.4C2347.4,1105.4,2349.9,1158.2,2352.4,1165.8C2354.9,1173.5,2357.5,1177.3,2360,1177.3C2362.5,1177.3,2365.1,1081.3,2367.6,1081.3C2370.1,1081.3,2372.6,1225.2,2375.2,1225.2C2377.7,1225.2,2380.2,1021.9,2382.8,1021.9C2385.3,1021.9,2387.8,1066.9,2390.3,1104.7C2392.9,1142.4,2395.4,1248.6,2397.9,1248.6C2400.4,1248.6,2403,1177.3,2405.5,1177.3C2408,1177.3,2410.6,1260.1,2413.1,1260.1C2415.6,1260.1,2418.1,1212.4,2420.7,1194.6C2423.2,1176.8,2425.7,1153.2,2428.2,1153.2C2430.8,1153.2,2433.3,1256.4,2435.8,1271.9C2438.4,1287.5,2440.9,1295.3,2443.4,1295.3C2445.9,1295.3,2448.5,1227.6,2451,1201.8C2453.5,1176,2456.1,1140.6,2458.6,1140.6C2461.1,1140.6,2463.6,1198.9,2466.2,1209C2468.7,1219.1,2471.2,1224.1,2473.8,1224.1C2476.3,1224.1,2478.8,1212.6,2481.3,1212.6C2483.9,1212.6,2486.4,1283.5,2488.9,1283.5C2491.4,1283.5,2494,1237.4,2496.5,1201.8C2499,1166.2,2501.6,1069.8,2504.1,1069.8C2506.6,1069.8,2509.1,1236,2511.7,1236C2514.2,1236,2516.7,1081.3,2519.2,1081.3C2521.8,1081.3,2524.3,1176.9,2526.8,1212.6C2529.4,1248.3,2531.9,1295.3,2534.4,1295.3C2536.9,1295.3,2539.5,1153.2,2542,1153.2C2544.5,1153.2,2547.1,1164.7,2549.6,1164.7C2552.1,1164.7,2554.6,1117.3,2557.2,1117.3C2559.7,1117.3,2562.2,1236,2564.8,1236C2567.3,1236,2569.8,1153.2,2572.3,1153.2C2574.9,1153.2,2577.4,1220.4,2579.9,1236C2582.4,1251.6,2585,1259.4,2587.5,1259.4C2590,1259.4,2592.6,1196.5,2595.1,1183.8C2597.6,1171.1,2600.1,1177.5,2602.7,1164.7C2605.2,1152,2607.7,1023.7,2610.2,1023.7C2612.8,1023.7,2615.3,1062.4,2617.8,1093.9C2620.4,1125.4,2622.9,1212.6,2625.4,1212.6C2627.9,1212.6,2630.5,1093.9,2633,1093.9C2635.5,1093.9,2638.1,1101.7,2640.6,1117.3C2643.1,1132.9,2645.6,1200,2648.2,1200C2650.7,1200,2653.2,1200,2655.8,1200C2658.3,1200,2660.8,1057.9,2663.3,1057.9C2665.9,1057.9,2668.4,1271.2,2670.9,1271.2C2673.4,1271.2,2676,1190.4,2678.5,1164.7C2681,1139.1,2683.6,1117.3,2686.1,1117.3C2688.6,1117.3,2691.1,1142.1,2693.7,1153.2C2696.2,1164.3,2698.7,1172,2701.2,1183.8C2703.8,1195.6,2706.3,1224.1,2708.8,1224.1C2711.4,1224.1,2713.9,1204.3,2716.4,1164.7C2718.9,1125.2,2721.5,974.5,2724,974.5C2726.5,974.5,2729.1,1247.8,2731.6,1247.8C2734.1,1247.8,2736.6,1117.3,2739.2,1117.3C2741.7,1117.3,2744.2,1171.4,2746.8,1189.2C2749.3,1207,2751.8,1224.1,2754.3,1224.1C2756.9,1224.1,2759.4,1164.7,2761.9,1164.7C2764.4,1164.7,2767,1176.6,2769.5,1176.6C2772,1176.6,2774.6,986.7,2777.1,986.7C2779.6,986.7,2782.1,1124.6,2784.7,1140.6C2787.2,1156.7,2789.7,1164.7,2792.2,1164.7C2794.8,1164.7,2797.3,1164.7,2799.8,1164.7C2802.4,1164.7,2804.9,1128.8,2807.4,1128.8C2809.9,1128.8,2812.5,1128.8,2815,1128.8C2817.5,1128.8,2820.1,1224.1,2822.6,1224.1C2825.1,1224.1,2827.6,1203.1,2830.2,1189.2C2832.7,1175.3,2835.2,1140.6,2837.8,1140.6C2840.3,1140.6,2842.8,1247.8,2845.3,1247.8C2847.9,1247.8,2850.4,1164.2,2852.9,1122.7C2855.4,1081.1,2858,998.6,2860.5,998.6C2863,998.6,2865.6,1069.1,2868.1,1104.7C2870.6,1140.2,2873.1,1211.9,2875.7,1211.9C2878.2,1211.9,2880.7,1192.1,2883.2,1180.2C2885.8,1168.3,2888.3,1140.6,2890.8,1140.6C2893.4,1140.6,2895.9,1247.8,2898.4,1247.8C2900.9,1247.8,2903.5,1164.7,2906,1164.7C2908.5,1164.7,2911.1,1307.2,2913.6,1307.2C2916.1,1307.2,2918.6,1128.8,2921.2,1128.8C2923.7,1128.8,2926.2,1168,2928.8,1183.8C2931.3,1199.6,2933.8,1215,2936.3,1223.4C2938.9,1231.8,2941.4,1236,2943.9,1236C2946.4,1236,2949,1153.2,2951.5,1153.2C2954,1153.2,2956.6,1153.2,2959.1,1153.2C2961.6,1153.2,2964.1,1170.8,2966.7,1176.6C2969.2,1182.4,2971.7,1188.1,2974.2,1188.1C2976.8,1188.1,2979.3,1069.8,2981.8,1069.8C2984.4,1069.8,2986.9,1127.8,2989.4,1151.4C2991.9,1175.1,2994.5,1211.9,2997,1211.9C2999.5,1211.9,3002.1,1211.9,3004.6,1211.9C3007.1,1211.9,3009.6,1259.4,3012.2,1259.4C3014.7,1259.4,3017.2,1117.3,3019.8,1117.3C3022.3,1117.3,3024.8,1162.1,3027.3,1183.8C3029.9,1205.6,3032.4,1247.8,3034.9,1247.8C3037.4,1247.8,3040,1247.8,3042.5,1247.8C3045,1247.8,3047.6,1128.8,3050.1,1128.8C3052.6,1128.8,3055.1,1211.9,3057.7,1211.9C3060.2,1211.9,3062.7,1186.9,3065.2,1173C3067.8,1159.2,3070.3,1128.8,3072.8,1128.8C3075.4,1128.8,3077.9,1283.8,3080.4,1283.8C3082.9,1283.8,3085.5,1283.8,3088,1283.8" fill="none" stroke="#487c48" stroke-width="4" stroke-linejoin="round"/>
</g>
<line x1="2361.2" x2="2361.2" y1="963.0" y2="1378.0" stroke="#367b73" stroke-width="2"/>
<circle cx="2362" cy="945" r="8" fill="#367b73"/></g>
<circle cx="517.6" cy="253" r="8" fill="#6db19a"/>
<circle cx="802" cy="253" r="8" fill="#6b91bc"/>
<circle cx="964.2" cy="253" r="8" fill="#c56786"/>
<circle cx="1106" cy="253" r="8" fill="#8c71b3"/>
<circle cx="677.2" cy="780" r="9.1" fill="#367b73"/><line x1="677.2" x2="677.2" y1="780" y2="799" stroke="#367b73" stroke-width="2"/>
<path d="M2888.5,190 L2900,201 L2911.5,190" fill="none" stroke="#2d69af" stroke-width="2.4" stroke-linecap="round" stroke-linejoin="round"/>
<path d="M377,324.5 L388,334.5 L399,324.5" fill="none" stroke="#343741" stroke-width="2.4" stroke-linecap="round" stroke-linejoin="round"/>
<circle cx="673.3" cy="1475.5" r="11" fill="#6b91bc"/>
<circle cx="873" cy="1475.5" r="11" fill="#d2c067"/>
<circle cx="1108.9" cy="1475.5" r="11" fill="#cf8f52"/>
<circle cx="2006.9" cy="1475.5" r="11" fill="#487c48"/>
<circle cx="2270.8" cy="1475.5" r="11" fill="#eaaa3b"/>
<circle cx="2540.9" cy="1475.5" r="11" fill="#b64430"/>
<circle cx="1349" cy="1472" r="9.1" fill="#367b73"/><line x1="1349" x2="1349" y1="1472" y2="1491" stroke="#367b73" stroke-width="2"/>
<circle cx="2814.8" cy="1472" r="9.1" fill="#367b73"/><line x1="2814.8" x2="2814.8" y1="1472" y2="1491" stroke="#367b73" stroke-width="2"/>
</svg>
<nav aria-label="Service tabs"><div class="t " style="left:72.4px;top:22.8px;font-size:33.82px;color:#2d69af;letter-spacing:0.036px;">Transactions</div>
<div class="t " style="left:326.5px;top:22.8px;font-size:33.82px;color:#343741;letter-spacing:0.14px;">Errors</div>
<div class="t " style="left:483.0px;top:22.8px;font-size:33.82px;color:#343741;letter-spacing:-0.333px;">JVMs</div>
<div class="t " style="left:629.7px;top:22.8px;font-size:33.82px;color:#343741;letter-spacing:0.3px;">Service Map</div></nav>
<aside aria-label="Filters"><div class="t med2" style="left:39.0px;top:147.8px;font-size:42.28px;color:#1a1c21;letter-spacing:-0.233px;">Filters</div>
<div class="t " style="left:41.0px;top:227.9px;font-size:25.37px;color:#1a1c21;letter-spacing:0px;font-weight:bold;transform:scaleX(0.944);">TRANSACTION TYPE</div>
<div class="t " style="left:55.0px;top:315.9px;font-size:29.6px;color:#343741;letter-spacing:0.267px;">request</div>
<div class="t " style="left:42.0px;top:456.5px;font-size:25.37px;color:#1a1c21;letter-spacing:0px;font-weight:bold;transform:scaleX(0.9278);">TRANSACTION RESULT</div>
<div class="t " style="left:40.0px;top:538.5px;font-size:25.37px;color:#1a1c21;letter-spacing:-0.333px;font-weight:bold;">HOST</div>
<div class="t " style="left:41.0px;top:620.5px;font-size:25.37px;color:#1a1c21;letter-spacing:0px;font-weight:bold;transform:scaleX(0.9385);">CONTAINER ID</div>
<div class="t " style="left:40.0px;top:702.5px;font-size:25.37px;color:#1a1c21;letter-spacing:0px;font-weight:bold;transform:scaleX(0.9145);">KUBERNETES POD</div>
<div class="t " style="left:41.0px;top:784.5px;font-size:25.37px;color:#1a1c21;letter-spacing:0px;font-weight:bold;transform:scaleX(0.9345);">SERVICE VERSION</div></aside>
<section aria-label="Time spent by span type"><div class="t " style="left:502.6px;top:176.4px;font-size:33.82px;color:#1a1c21;letter-spacing:0px;font-weight:bold;transform:scaleX(0.9272);">Time spent by span type</div>
<div class="t " style="left:2931.8px;top:179.6px;font-size:29.6px;color:#2d69af;letter-spacing:0.244px;">Hide chart</div>
<div class="t " style="left:547.8px;top:238.7px;font-size:27.48px;color:#69707d;letter-spacing:0px;transform:scaleX(0.9171);">InternalResource</div>
<div class="t " style="left:834.0px;top:238.7px;font-size:27.48px;color:#69707d;letter-spacing:0px;transform:scaleX(0.9545);">app</div>
<div class="t " style="left:994.7px;top:238.7px;font-size:27.48px;color:#69707d;letter-spacing:0px;transform:scaleX(1.0535);">http</div>
<div class="t " style="left:1136.2px;top:238.7px;font-size:27.48px;color:#69707d;letter-spacing:0px;transform:scaleX(0.9626);">postgresql</div>
<div class="t med" style="left:501.6px;top:296.8px;font-size:42.28px;color:#1a1c21;letter-spacing:0px;transform:scaleX(0.922);">0%</div>
<div class="t med" style="left:785.4px;top:296.8px;font-size:42.28px;color:#1a1c21;letter-spacing:0px;transform:scaleX(0.9436);">68.2%</div>
<div class="t med" style="left:948.9px;top:296.8px;font-size:42.28px;color:#1a1c21;letter-spacing:0px;transform:scaleX(0.841);">31%</div>
<div class="t med" style="left:1090.0px;top:296.8px;font-size:42.28px;color:#1a1c21;letter-spacing:0px;transform:scaleX(0.9298);">0.8%</div>
<div class="t " style="left:701.0px;top:769.3px;font-size:25.37px;color:#98a2b3;letter-spacing:0.0px;">Service version</div>
<div class="t " style="left:779.4px;top:699.6px;font-size:23.25px;color:#676772;letter-spacing:0.3px;">09 PM</div>
<div class="t " style="left:1078.0px;top:699.6px;font-size:23.25px;color:#676772;letter-spacing:-0.1px;">May 10</div>
<div class="t " style="left:1385.2px;top:699.6px;font-size:23.25px;color:#676772;letter-spacing:0px;transform:scaleX(1.0571);">03 AM</div>
<div class="t " style="left:1688.6px;top:699.6px;font-size:23.25px;color:#676772;letter-spacing:0px;transform:scaleX(1.0524);">06 AM</div>
<div class="t " style="left:1991.8px;top:699.6px;font-size:23.25px;color:#676772;letter-spacing:0px;transform:scaleX(1.0556);">09 AM</div>
<div class="t " style="left:2296.3px;top:699.6px;font-size:23.25px;color:#676772;letter-spacing:-0.3px;">12 PM</div>
<div class="t " style="left:2598.6px;top:699.6px;font-size:23.25px;color:#676772;letter-spacing:0.45px;">03 PM</div>
<div class="t " style="left:2901.8px;top:699.6px;font-size:23.25px;color:#676772;letter-spacing:0.45px;">06 PM</div>
<div class="t " style="left:583.5px;top:387.1px;font-size:23.25px;color:#676772;letter-spacing:0px;transform:scaleX(0.9365);">100 %</div>
<div class="t " style="left:594.9px;top:530.9px;font-size:23.25px;color:#676772;letter-spacing:0px;transform:scaleX(0.9529);">50 %</div>
<div class="t " style="left:607.7px;top:674.6px;font-size:23.25px;color:#676772;letter-spacing:0px;transform:scaleX(0.9421);">0 %</div></section>
<section aria-label="Transaction duration"><div class="t " style="left:502.7px;top:888.4px;font-size:33.82px;color:#1a1c21;letter-spacing:0px;font-weight:bold;transform:scaleX(0.9271);">Transaction duration</div>
<div class="t " style="left:695.0px;top:1462.1px;font-size:25.37px;color:#98a2b3;letter-spacing:0px;transform:scaleX(0.9583);">Avg.</div>
<div class="t " style="left:750.3px;top:1462.1px;font-size:25.37px;color:#000;letter-spacing:0px;transform:scaleX(0.9667);">361 ms</div>
<div class="t " style="left:895.1px;top:1462.1px;font-size:25.37px;color:#98a2b3;letter-spacing:0.321px;">95th percentile</div>
<div class="t " style="left:1130.2px;top:1462.1px;font-size:25.37px;color:#98a2b3;letter-spacing:0px;transform:scaleX(1.0323);">99th percentile</div>
<div class="t " style="left:1373.1px;top:1462.1px;font-size:25.37px;color:#98a2b3;letter-spacing:-0.014px;">Service version</div>
<div class="t " style="left:696.4px;top:1391.6px;font-size:23.25px;color:#676772;letter-spacing:0.3px;">09 PM</div>
<div class="t " style="left:828.1px;top:1391.6px;font-size:23.25px;color:#676772;letter-spacing:-0.1px;">May 10</div>
<div class="t " style="left:968.5px;top:1391.6px;font-size:23.25px;color:#676772;letter-spacing:0px;transform:scaleX(1.0571);">03 AM</div>
<div class="t " style="left:1105.0px;top:1391.6px;font-size:23.25px;color:#676772;letter-spacing:0px;transform:scaleX(1.0524);">06 AM</div>
<div class="t " style="left:1241.3px;top:1391.6px;font-size:23.25px;color:#676772;letter-spacing:0px;transform:scaleX(1.0556);">09 AM</div>
<div class="t " style="left:1379.1px;top:1391.6px;font-size:23.25px;color:#676772;letter-spacing:-0.3px;">12 PM</div>
<div class="t " style="left:1514.5px;top:1391.6px;font-size:23.25px;color:#676772;letter-spacing:0.45px;">03 PM</div>
<div class="t " style="left:1650.9px;top:1391.6px;font-size:23.25px;color:#676772;letter-spacing:0.45px;">06 PM</div>
<div class="t " style="left:572.0px;top:951.1px;font-size:23.25px;color:#676772;letter-spacing:-0.233px;">1.3 min</div>
<div class="t " style="left:571.1px;top:1158.6px;font-size:23.25px;color:#676772;letter-spacing:-0.083px;">0.7 min</div>
<div class="t " style="left:569.9px;top:1366.1px;font-size:23.25px;color:#676772;letter-spacing:0.117px;">0.0 min</div></section>
<section aria-label="Requests per minute"><div class="t " style="left:1835.6px;top:888.4px;font-size:33.82px;color:#1a1c21;letter-spacing:0px;font-weight:bold;transform:scaleX(0.9275);">Requests per minute</div>
<div class="t " style="left:2028.3px;top:1462.1px;font-size:25.37px;color:#98a2b3;letter-spacing:-0.329px;">HTTP 2xx</div>
<div class="t " style="left:2145.7px;top:1462.1px;font-size:25.37px;color:#000;letter-spacing:-0.4px;">1.7 rpm</div>
<div class="t " style="left:2291.9px;top:1462.1px;font-size:25.37px;color:#98a2b3;letter-spacing:-0.129px;">HTTP 4xx</div>
<div class="t " style="left:2412.0px;top:1462.1px;font-size:25.37px;color:#000;letter-spacing:0.233px;">0.3 rpm</div>
<div class="t " style="left:2562.5px;top:1462.1px;font-size:25.37px;color:#98a2b3;letter-spacing:-0.257px;">HTTP 5xx</div>
<div class="t " style="left:2681.2px;top:1462.1px;font-size:25.37px;color:#000;letter-spacing:0.2px;">0.3 rpm</div>
<div class="t " style="left:2839.4px;top:1462.1px;font-size:25.37px;color:#98a2b3;letter-spacing:0.007px;">Service version</div>
<div class="t " style="left:2030.4px;top:1391.6px;font-size:23.25px;color:#676772;letter-spacing:0.3px;">09 PM</div>
<div class="t " style="left:2162.2px;top:1391.6px;font-size:23.25px;color:#676772;letter-spacing:-0.1px;">May 10</div>
<div class="t " style="left:2302.7px;top:1391.6px;font-size:23.25px;color:#676772;letter-spacing:0px;transform:scaleX(1.0571);">03 AM</div>
<div class="t " style="left:2439.3px;top:1391.6px;font-size:23.25px;color:#676772;letter-spacing:0px;transform:scaleX(1.0524);">06 AM</div>
<div class="t " style="left:2575.8px;top:1391.6px;font-size:23.25px;color:#676772;letter-spacing:0px;transform:scaleX(1.0556);">09 AM</div>
<div class="t " style="left:2713.6px;top:1391.6px;font-size:23.25px;color:#676772;letter-spacing:-0.3px;">12 PM</div>
<div class="t " style="left:2849.1px;top:1391.6px;font-size:23.25px;color:#676772;letter-spacing:0.45px;">03 PM</div>
<div class="t " style="left:2985.6px;top:1391.6px;font-size:23.25px;color:#676772;letter-spacing:0.45px;">06 PM</div>
<div class="t " style="left:1918.9px;top:951.1px;font-size:23.25px;color:#676772;letter-spacing:0px;transform:scaleX(1.0439);">4 rpm</div>
<div class="t " style="left:1919.1px;top:1158.6px;font-size:23.25px;color:#676772;letter-spacing:0px;transform:scaleX(1.0404);">2 rpm</div>
<div class="t " style="left:1919.2px;top:1366.1px;font-size:23.25px;color:#676772;letter-spacing:0px;transform:scaleX(1.0386);">0 rpm</div></section>
<div id="tip"></div>
<div class="hr" style="left:799px;top:813.5px;width:455px;background:#595959"></div>
<div role="tooltip"><div class="t tt" style="left:797.0px;top:768.1px;font-size:29.6px;color:#fff;letter-spacing:0.297px;font-weight:bold;">May 10, 2020, 03:31:30 (UTC-7)</div>
<div class="t tt" style="left:799.0px;top:828.2px;font-size:33.82px;color:#fff;letter-spacing:-0.067px;">Version</div>
<div class="t tt" style="left:957.3px;top:828.4px;font-size:29.6px;color:#fff;letter-spacing:-0.119px;">Upgrade to version 1.2</div></div>
</body></html>
